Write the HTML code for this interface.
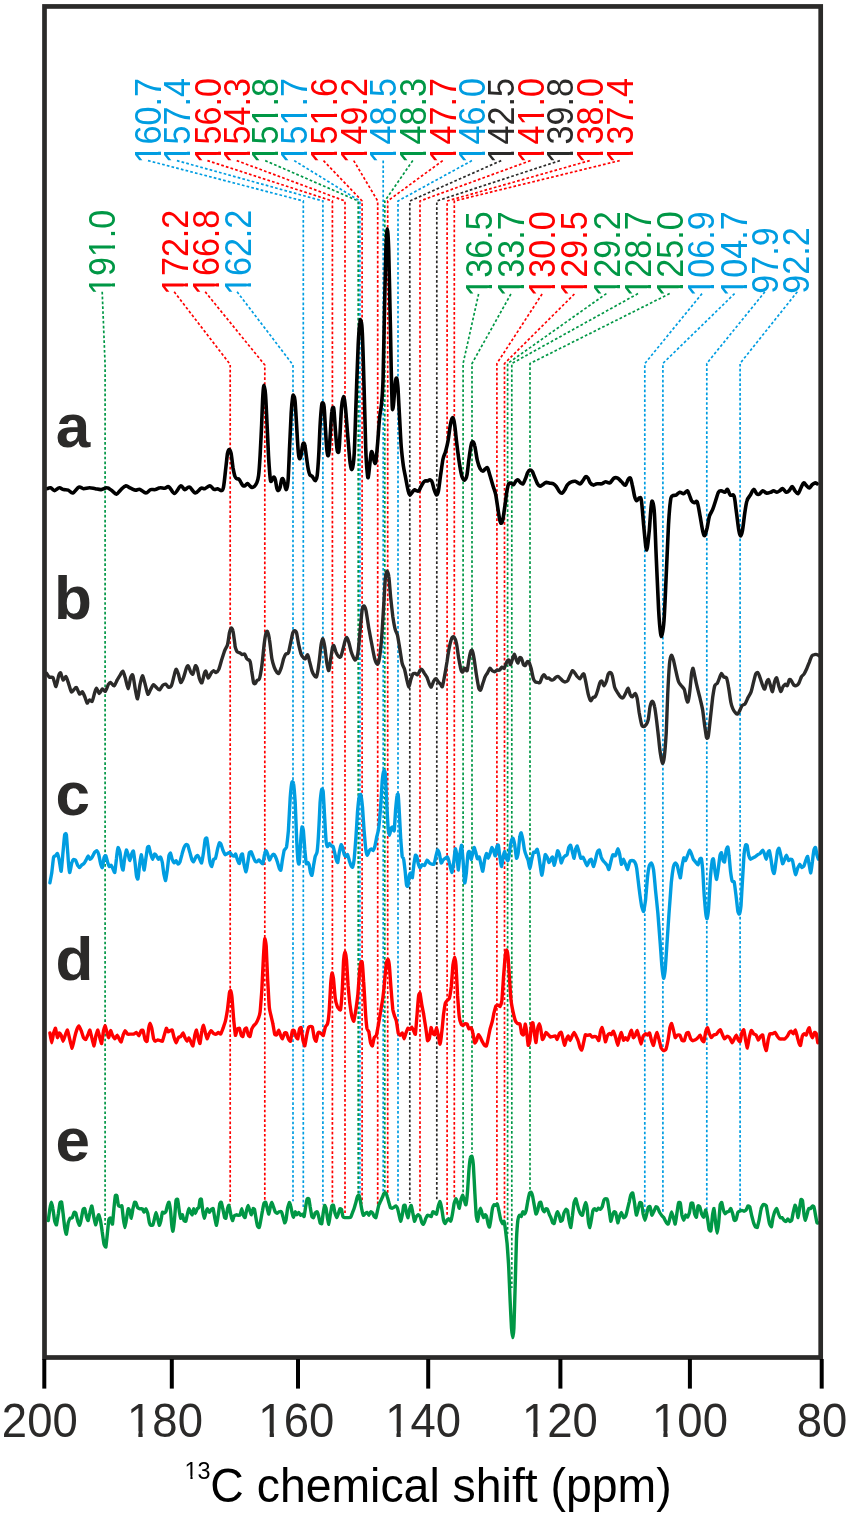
<!DOCTYPE html>
<html lang="en"><head><meta charset="utf-8"><title>13C NMR spectra</title>
<style>html,body{margin:0;padding:0;background:#fff}svg{display:block}text{font-family:'Liberation Sans', Arial, Helvetica, sans-serif}</style></head><body>
<svg width="850" height="1515" viewBox="0 0 850 1515">
<rect width="850" height="1515" fill="#fff"/>
<g font-size="36.01">
<g transform="translate(161.2 163.4) rotate(-90) scale(0.9469 1)"><text fill="#009de1">160.7</text><g fill="#fff"><rect x="1.67" y="-4.13" width="7.28" height="5.28"/><rect x="12.34" y="-4.13" width="7.44" height="5.28"/></g></g>
<g transform="translate(190.1 163.4) rotate(-90) scale(0.9469 1)"><text fill="#009de1">157.4</text><g fill="#fff"><rect x="1.67" y="-4.13" width="7.28" height="5.28"/><rect x="12.34" y="-4.13" width="7.44" height="5.28"/></g></g>
<g transform="translate(220.6 163.4) rotate(-90) scale(0.9469 1)"><text fill="#ff0000">156.0</text><g fill="#fff"><rect x="1.67" y="-4.13" width="7.28" height="5.28"/><rect x="12.34" y="-4.13" width="7.44" height="5.28"/></g></g>
<g transform="translate(249.9 163.4) rotate(-90) scale(0.9469 1)"><text fill="#ff0000">154.3</text><g fill="#fff"><rect x="1.67" y="-4.13" width="7.28" height="5.28"/><rect x="12.34" y="-4.13" width="7.44" height="5.28"/></g></g>
<g transform="translate(278.4 163.4) rotate(-90) scale(0.9469 1)"><text fill="#009745">151.8</text><g fill="#fff"><rect x="1.67" y="-4.13" width="7.28" height="5.28"/><rect x="12.34" y="-4.13" width="7.44" height="5.28"/><rect x="41.73" y="-4.13" width="7.28" height="5.28"/><rect x="52.40" y="-4.13" width="7.44" height="5.28"/></g></g>
<g transform="translate(307.4 163.4) rotate(-90) scale(0.9469 1)"><text fill="#009de1">151.7</text><g fill="#fff"><rect x="1.67" y="-4.13" width="7.28" height="5.28"/><rect x="12.34" y="-4.13" width="7.44" height="5.28"/><rect x="41.73" y="-4.13" width="7.28" height="5.28"/><rect x="52.40" y="-4.13" width="7.44" height="5.28"/></g></g>
<g transform="translate(336.7 163.4) rotate(-90) scale(0.9469 1)"><text fill="#ff0000">151.6</text><g fill="#fff"><rect x="1.67" y="-4.13" width="7.28" height="5.28"/><rect x="12.34" y="-4.13" width="7.44" height="5.28"/><rect x="41.73" y="-4.13" width="7.28" height="5.28"/><rect x="52.40" y="-4.13" width="7.44" height="5.28"/></g></g>
<g transform="translate(366.9 163.4) rotate(-90) scale(0.9469 1)"><text fill="#ff0000">149.2</text><g fill="#fff"><rect x="1.67" y="-4.13" width="7.28" height="5.28"/><rect x="12.34" y="-4.13" width="7.44" height="5.28"/></g></g>
<g transform="translate(396.4 163.4) rotate(-90) scale(0.9469 1)"><text fill="#009de1">148.5</text><g fill="#fff"><rect x="1.67" y="-4.13" width="7.28" height="5.28"/><rect x="12.34" y="-4.13" width="7.44" height="5.28"/></g></g>
<g transform="translate(426.0 163.4) rotate(-90) scale(0.9469 1)"><text fill="#009745">148.3</text><g fill="#fff"><rect x="1.67" y="-4.13" width="7.28" height="5.28"/><rect x="12.34" y="-4.13" width="7.44" height="5.28"/></g></g>
<g transform="translate(455.9 163.4) rotate(-90) scale(0.9469 1)"><text fill="#ff0000">147.7</text><g fill="#fff"><rect x="1.67" y="-4.13" width="7.28" height="5.28"/><rect x="12.34" y="-4.13" width="7.44" height="5.28"/></g></g>
<g transform="translate(485.1 163.4) rotate(-90) scale(0.9469 1)"><text fill="#009de1">146.0</text><g fill="#fff"><rect x="1.67" y="-4.13" width="7.28" height="5.28"/><rect x="12.34" y="-4.13" width="7.44" height="5.28"/></g></g>
<g transform="translate(514.4 163.4) rotate(-90) scale(0.9469 1)"><text fill="#2b2a29">142.5</text><g fill="#fff"><rect x="1.67" y="-4.13" width="7.28" height="5.28"/><rect x="12.34" y="-4.13" width="7.44" height="5.28"/></g></g>
<g transform="translate(543.7 163.4) rotate(-90) scale(0.9469 1)"><text fill="#ff0000">141.0</text><g fill="#fff"><rect x="1.67" y="-4.13" width="7.28" height="5.28"/><rect x="12.34" y="-4.13" width="7.44" height="5.28"/><rect x="41.73" y="-4.13" width="7.28" height="5.28"/><rect x="52.40" y="-4.13" width="7.44" height="5.28"/></g></g>
<g transform="translate(573.1 163.4) rotate(-90) scale(0.9469 1)"><text fill="#2b2a29">139.8</text><g fill="#fff"><rect x="1.67" y="-4.13" width="7.28" height="5.28"/><rect x="12.34" y="-4.13" width="7.44" height="5.28"/></g></g>
<g transform="translate(602.9 163.4) rotate(-90) scale(0.9469 1)"><text fill="#ff0000">138.0</text><g fill="#fff"><rect x="1.67" y="-4.13" width="7.28" height="5.28"/><rect x="12.34" y="-4.13" width="7.44" height="5.28"/></g></g>
<g transform="translate(632.9 163.4) rotate(-90) scale(0.9469 1)"><text fill="#ff0000">137.4</text><g fill="#fff"><rect x="1.67" y="-4.13" width="7.28" height="5.28"/><rect x="12.34" y="-4.13" width="7.44" height="5.28"/></g></g>
<g transform="translate(114.8 295.0) rotate(-90) scale(0.9469 1)"><text fill="#009745">191.0</text><g fill="#fff"><rect x="1.67" y="-4.13" width="7.28" height="5.28"/><rect x="12.34" y="-4.13" width="7.44" height="5.28"/><rect x="41.73" y="-4.13" width="7.28" height="5.28"/><rect x="52.40" y="-4.13" width="7.44" height="5.28"/></g></g>
<g transform="translate(187.6 295.0) rotate(-90) scale(0.9469 1)"><text fill="#ff0000">172.2</text><g fill="#fff"><rect x="1.67" y="-4.13" width="7.28" height="5.28"/><rect x="12.34" y="-4.13" width="7.44" height="5.28"/></g></g>
<g transform="translate(218.6 295.0) rotate(-90) scale(0.9469 1)"><text fill="#ff0000">166.8</text><g fill="#fff"><rect x="1.67" y="-4.13" width="7.28" height="5.28"/><rect x="12.34" y="-4.13" width="7.44" height="5.28"/></g></g>
<g transform="translate(250.5 295.0) rotate(-90) scale(0.9469 1)"><text fill="#009de1">162.2</text><g fill="#fff"><rect x="1.67" y="-4.13" width="7.28" height="5.28"/><rect x="12.34" y="-4.13" width="7.44" height="5.28"/></g></g>
<g transform="translate(491.5 296.7) rotate(-90) scale(0.9469 1)"><text fill="#009745">136.5</text><g fill="#fff"><rect x="1.67" y="-4.13" width="7.28" height="5.28"/><rect x="12.34" y="-4.13" width="7.44" height="5.28"/></g></g>
<g transform="translate(523.8 296.7) rotate(-90) scale(0.9469 1)"><text fill="#009745">133.7</text><g fill="#fff"><rect x="1.67" y="-4.13" width="7.28" height="5.28"/><rect x="12.34" y="-4.13" width="7.44" height="5.28"/></g></g>
<g transform="translate(555.0 296.7) rotate(-90) scale(0.9469 1)"><text fill="#ff0000">130.0</text><g fill="#fff"><rect x="1.67" y="-4.13" width="7.28" height="5.28"/><rect x="12.34" y="-4.13" width="7.44" height="5.28"/></g></g>
<g transform="translate(587.3 296.7) rotate(-90) scale(0.9469 1)"><text fill="#ff0000">129.5</text><g fill="#fff"><rect x="1.67" y="-4.13" width="7.28" height="5.28"/><rect x="12.34" y="-4.13" width="7.44" height="5.28"/></g></g>
<g transform="translate(619.5 296.7) rotate(-90) scale(0.9469 1)"><text fill="#009745">129.2</text><g fill="#fff"><rect x="1.67" y="-4.13" width="7.28" height="5.28"/><rect x="12.34" y="-4.13" width="7.44" height="5.28"/></g></g>
<g transform="translate(651.3 296.7) rotate(-90) scale(0.9469 1)"><text fill="#009745">128.7</text><g fill="#fff"><rect x="1.67" y="-4.13" width="7.28" height="5.28"/><rect x="12.34" y="-4.13" width="7.44" height="5.28"/></g></g>
<g transform="translate(682.7 296.7) rotate(-90) scale(0.9469 1)"><text fill="#009745">125.0</text><g fill="#fff"><rect x="1.67" y="-4.13" width="7.28" height="5.28"/><rect x="12.34" y="-4.13" width="7.44" height="5.28"/></g></g>
<g transform="translate(714.2 296.7) rotate(-90) scale(0.9469 1)"><text fill="#009de1">106.9</text><g fill="#fff"><rect x="1.67" y="-4.13" width="7.28" height="5.28"/><rect x="12.34" y="-4.13" width="7.44" height="5.28"/></g></g>
<g transform="translate(747.3 296.7) rotate(-90) scale(0.9469 1)"><text fill="#009de1">104.7</text><g fill="#fff"><rect x="1.67" y="-4.13" width="7.28" height="5.28"/><rect x="12.34" y="-4.13" width="7.44" height="5.28"/></g></g>
<g transform="translate(778.1 293.7) rotate(-90) scale(0.9469 1)"><text fill="#009de1">97.9</text><g fill="#fff"></g></g>
<g transform="translate(809.1 293.7) rotate(-90) scale(0.9469 1)"><text fill="#009de1">92.2</text><g fill="#fff"></g></g>
</g>
<g fill="none" stroke-width="1.7" stroke-dasharray="2.7 2.15">
<path stroke="#009de1" d="M148.0 160.6L303.3 201.0L303.3 1207.0"/>
<path stroke="#009de1" d="M176.9 160.6L322.9 201.0L322.9 1204.5"/>
<path stroke="#ff0000" d="M207.4 160.6L332.4 201.0L332.4 1204.0"/>
<path stroke="#ff0000" d="M236.7 160.6L345.0 201.0L345.0 1213.0"/>
<path stroke="#009745" d="M265.2 160.6L358.2 201.0L358.2 1194.0"/>
<path stroke="#009de1" d="M294.2 160.6L359.9 201.0L359.9 1199.0"/>
<path stroke="#ff0000" d="M323.5 160.6L362.1 201.0L362.1 1203.5"/>
<path stroke="#ff0000" d="M353.7 160.6L377.7 201.0L377.7 1206.0"/>
<path stroke="#009de1" d="M383.2 160.6L383.2 201.0L383.2 1196.5"/>
<path stroke="#009745" d="M412.8 160.6L384.8 201.0L384.8 1192.0"/>
<path stroke="#ff0000" d="M442.7 160.6L387.7 201.0L387.7 1195.0"/>
<path stroke="#009de1" d="M471.9 160.6L398.0 201.0L398.0 1203.0"/>
<path stroke="#2b2a29" d="M501.2 160.6L409.8 201.0L409.8 1203.0"/>
<path stroke="#ff0000" d="M530.5 160.6L420.0 201.0L420.0 1213.0"/>
<path stroke="#2b2a29" d="M559.9 160.6L436.8 201.0L436.8 1201.6"/>
<path stroke="#ff0000" d="M589.7 160.6L447.1 201.0L447.1 1216.5"/>
<path stroke="#ff0000" d="M619.7 160.6L454.3 201.0L454.3 1197.6"/>
<path stroke="#009745" d="M102.2 291.8L105.1 365.0L105.1 1225.0"/>
<path stroke="#ff0000" d="M174.2 291.8L230.2 364.5L230.2 1204.6"/>
<path stroke="#ff0000" d="M205.2 291.8L264.8 365.0L264.8 1200.5"/>
<path stroke="#009de1" d="M237.1 291.8L293.0 365.0L293.0 1201.3"/>
<path stroke="#009745" d="M478.6 294.0L463.1 363.5L463.1 1194.0"/>
<path stroke="#009745" d="M510.9 294.0L472.0 363.5L472.0 1153.0"/>
<path stroke="#ff0000" d="M542.1 294.0L496.9 363.5L496.9 1202.4"/>
<path stroke="#ff0000" d="M574.4 294.0L504.5 363.5L504.5 1218.8"/>
<path stroke="#009745" d="M606.4 293.6L507.6 363.5L507.6 1234.0"/>
<path stroke="#009745" d="M638.0 293.6L511.8 363.5L511.8 1288.0"/>
<path stroke="#009745" d="M669.7 293.6L530.0 363.5L530.0 1189.4"/>
<path stroke="#009de1" d="M702.0 293.6L644.8 363.6L644.8 1213.8"/>
<path stroke="#009de1" d="M734.6 293.6L662.9 363.4L662.9 1213.8"/>
<path stroke="#009de1" d="M764.9 291.8L706.8 363.4L706.8 1220.0"/>
<path stroke="#009de1" d="M797.3 291.8L740.1 363.4L740.1 1210.0"/>
</g>
<g fill="none" stroke-linejoin="round" stroke-linecap="round">
<path stroke="#000000" stroke-width="3.6" d="M47.1 488.7C47.6 488.5 49.3 487.5 50.6 487.8C51.8 488.1 53.1 490.6 54.6 490.6C56.0 490.6 57.8 487.9 59.3 487.8C60.8 487.6 62.0 489.3 63.5 489.6C65.0 490.0 66.7 489.6 68.2 490.1C69.8 490.7 71.2 493.5 72.9 492.9C74.7 492.4 77.1 487.8 78.8 487.1C80.6 486.4 81.8 488.6 83.5 488.7C85.3 488.8 87.5 487.8 89.4 487.8C91.4 487.8 93.3 488.4 95.3 488.7C97.3 489.0 99.2 489.8 101.2 489.6C103.1 489.5 105.3 487.6 107.1 487.8C108.8 487.9 110.2 489.5 111.8 490.6C113.3 491.6 114.9 494.3 116.5 494.1C118.0 493.9 119.6 490.8 121.2 489.4C122.7 488.0 124.3 486.1 125.9 485.9C127.5 485.7 129.0 487.5 130.6 488.2C132.2 488.9 133.7 489.9 135.3 490.1C136.9 490.3 138.2 488.9 140.0 489.4C141.8 489.9 144.1 492.9 145.9 492.9C147.6 493.0 149.0 490.2 150.6 489.6C152.2 489.1 153.7 490.0 155.3 489.6C156.9 489.3 158.4 488.0 160.0 487.8C161.6 487.5 163.2 488.4 164.7 488.2C166.2 488.1 167.3 486.0 168.9 486.8C170.6 487.7 172.6 493.6 174.6 493.4C176.5 493.3 179.0 486.5 180.7 485.9C182.4 485.3 183.3 489.5 184.7 489.6C186.2 489.8 187.6 486.5 189.4 487.1C191.2 487.6 193.3 492.7 195.3 492.9C197.3 493.1 199.6 488.9 201.2 488.2C202.7 487.5 203.3 489.1 204.7 488.7C206.2 488.3 208.3 485.8 209.9 485.9C211.5 486.0 212.8 488.9 214.1 489.4C215.4 489.9 216.5 488.5 217.6 488.7C218.8 488.9 220.2 490.9 221.2 490.6C222.2 490.3 222.7 491.0 223.5 487.1C224.3 483.1 225.2 472.7 225.9 467.1C226.6 461.4 227.0 456.3 227.5 453.4C228.1 450.4 228.6 449.5 229.2 449.5C229.8 449.5 230.4 450.3 231.1 453.4C231.7 456.4 232.4 464.1 233.0 467.9C233.7 471.7 234.3 474.5 234.9 476.3C235.5 478.1 236.0 478.1 236.7 478.6C237.4 479.1 238.4 478.6 239.2 479.4C239.9 480.1 240.6 482.1 241.3 483.2C242.0 484.3 242.6 485.6 243.3 485.9C244.0 486.3 244.6 485.9 245.3 485.5C246.0 485.1 246.7 483.4 247.4 483.5C248.2 483.6 249.1 485.3 249.9 485.9C250.7 486.6 251.4 487.4 252.2 487.5C252.9 487.5 253.7 487.0 254.5 486.2C255.2 485.5 255.9 485.0 256.6 483.2C257.3 481.4 258.0 480.1 258.6 475.5C259.2 470.9 259.6 464.3 260.1 455.7C260.6 447.0 261.2 433.7 261.7 423.5C262.1 413.3 262.5 400.8 262.9 394.5C263.3 388.1 263.7 385.3 264.1 385.3C264.5 385.3 265.0 388.1 265.5 394.5C266.0 400.8 266.5 413.3 267.0 423.5C267.5 433.7 268.1 447.2 268.5 455.7C269.0 464.1 269.4 469.7 269.8 474.0C270.1 478.3 270.4 480.5 270.8 481.3C271.3 482.2 271.8 480.1 272.4 479.4C272.9 478.6 273.4 476.9 273.9 477.1C274.4 477.2 274.9 478.2 275.4 480.1C275.9 482.0 276.4 486.8 276.9 488.5C277.5 490.3 278.0 490.7 278.5 490.5C279.0 490.4 279.5 489.5 280.0 487.8C280.5 486.0 281.1 481.7 281.5 480.1C282.0 478.6 282.3 478.3 282.8 478.6C283.2 478.9 283.7 480.1 284.1 481.7C284.6 483.2 285.0 486.5 285.4 487.8C285.8 489.0 286.1 490.3 286.6 489.0C287.0 487.7 287.6 487.2 288.1 480.1C288.6 473.0 289.1 457.7 289.6 446.5C290.2 435.3 290.7 421.1 291.2 412.8C291.7 404.5 292.3 399.6 292.7 396.8C293.1 394.0 293.4 395.4 293.8 396.0C294.2 396.6 294.5 396.0 295.0 400.6C295.5 405.2 296.0 415.4 296.5 423.5C297.0 431.7 297.6 443.7 298.1 449.5C298.5 455.3 298.9 457.4 299.4 458.4C299.9 459.4 300.4 457.8 301.0 455.7C301.5 453.5 302.0 447.8 302.5 445.7C302.9 443.6 303.3 443.1 303.7 443.1C304.1 443.1 304.5 443.4 304.9 445.7C305.4 448.1 305.9 453.2 306.5 457.2C307.0 461.1 307.7 466.5 308.3 469.4C308.9 472.4 309.2 473.6 309.8 474.8C310.5 475.9 311.4 475.5 312.1 476.3C312.8 477.1 313.5 478.7 314.1 479.4C314.7 480.0 315.1 481.1 315.6 480.4C316.2 479.8 316.7 479.7 317.2 475.5C317.7 471.4 318.2 464.3 318.7 455.7C319.2 447.0 319.7 431.8 320.2 423.5C320.7 415.2 321.2 409.4 321.6 405.9C322.0 402.5 322.4 402.8 322.8 402.9C323.2 403.0 323.6 402.5 324.1 406.7C324.5 410.9 325.0 421.2 325.4 428.1C325.9 435.0 326.2 443.4 326.7 448.0C327.1 452.6 327.5 455.1 327.9 455.7C328.3 456.2 328.7 455.1 329.1 451.1C329.5 447.0 330.0 437.8 330.5 431.2C330.9 424.6 331.4 415.2 331.9 411.3C332.3 407.3 332.6 407.6 332.9 407.5C333.3 407.3 333.6 406.6 334.0 410.5C334.4 414.5 335.0 424.9 335.5 431.2C336.0 437.4 336.5 444.5 336.9 448.0C337.3 451.5 337.7 452.5 338.1 452.3C338.5 452.0 338.8 453.9 339.3 446.5C339.9 439.1 340.8 416.3 341.5 408.0C342.2 399.7 342.9 396.5 343.5 396.5C344.2 396.5 344.8 401.2 345.5 408.0C346.2 414.9 347.1 428.5 347.9 437.7C348.7 447.0 349.5 458.3 350.2 463.5C351.0 468.7 351.6 470.7 352.2 469.0C352.9 467.4 353.5 465.4 354.2 453.6C354.9 441.7 355.5 416.3 356.2 398.1C356.8 380.0 357.6 357.2 358.2 344.7C358.8 332.1 359.3 326.8 359.8 322.9C360.2 318.9 360.5 319.2 360.9 320.9C361.4 322.5 361.8 321.6 362.3 332.8C362.9 344.0 363.5 369.1 364.1 388.2C364.7 407.4 365.2 433.4 365.7 447.6C366.2 461.8 366.8 468.5 367.3 473.4C367.7 478.3 367.9 478.3 368.3 476.9C368.7 475.6 369.2 469.5 369.7 465.4C370.1 461.4 370.7 454.6 371.2 452.6C371.7 450.6 372.1 452.1 372.6 453.6C373.1 455.0 373.7 460.1 374.2 461.5C374.7 462.9 375.2 464.9 375.8 461.9C376.4 458.9 376.9 451.0 377.6 443.7C378.2 436.3 378.9 424.5 379.6 417.9C380.2 411.3 380.9 410.7 381.5 404.1C382.1 397.5 382.6 394.2 383.1 378.3C383.6 362.5 384.0 330.5 384.5 309.0C385.0 287.6 385.4 263.0 385.9 249.6C386.4 236.2 386.8 228.8 387.3 228.8C387.7 228.8 388.2 236.2 388.7 249.6C389.1 263.0 389.6 289.2 390.0 309.0C390.5 328.8 390.9 352.2 391.2 368.4C391.6 384.6 391.9 399.6 392.2 406.0C392.6 412.5 392.9 409.0 393.2 407.0C393.6 405.0 394.0 398.6 394.4 394.2C394.8 389.7 395.2 382.9 395.6 380.3C396.0 377.7 396.4 377.4 396.8 378.7C397.2 380.0 397.5 381.7 398.0 388.2C398.4 394.8 399.0 408.0 399.6 417.9C400.1 427.8 400.7 439.7 401.3 447.6C402.0 455.5 402.6 460.2 403.3 465.4C404.1 470.7 405.1 475.0 405.9 479.3C406.7 483.6 407.6 488.5 408.3 491.2C408.9 493.8 409.2 495.0 409.9 495.1C410.5 495.3 411.4 493.1 412.2 492.2C413.0 491.3 413.9 490.0 414.6 489.8C415.3 489.6 415.9 490.6 416.6 490.8C417.3 491.0 418.1 491.4 418.8 490.8C419.5 490.2 420.0 488.5 420.7 487.2C421.5 485.9 422.4 483.9 423.1 482.9C423.8 481.8 424.3 481.2 425.1 480.9C425.9 480.6 426.8 481.1 427.7 480.9C428.5 480.7 429.3 479.6 430.0 479.7C430.8 479.8 431.4 480.1 432.0 481.7C432.7 483.3 433.3 487.1 434.0 489.2C434.7 491.3 435.5 493.2 436.0 494.2C436.5 495.1 436.6 495.2 437.0 494.8C437.4 494.3 437.8 494.1 438.4 491.2C438.9 488.3 439.6 482.6 440.3 477.3C441.1 472.0 442.1 463.8 442.9 459.5C443.8 455.2 444.7 454.6 445.5 451.6C446.3 448.6 447.1 446.0 447.9 441.7C448.7 437.4 449.6 429.6 450.2 425.8C450.9 422.0 451.3 420.2 451.8 418.9C452.3 417.7 452.7 417.2 453.2 418.3C453.7 419.5 454.2 421.6 454.8 425.8C455.4 430.1 456.0 437.0 456.8 443.7C457.6 450.3 458.9 460.3 459.8 465.9C460.7 471.5 461.4 474.8 462.2 477.2C463.1 479.5 463.9 480.3 464.7 480.0C465.5 479.7 466.3 478.6 466.9 475.3C467.6 472.0 468.1 465.3 468.8 460.2C469.5 455.2 470.4 448.3 471.1 445.2C471.8 442.1 472.3 441.6 473.0 441.8C473.6 441.9 474.1 443.0 474.8 446.1C475.6 449.2 476.4 456.5 477.3 460.2C478.2 464.0 479.2 466.9 480.1 468.7C481.1 470.5 482.1 471.2 482.9 471.2C483.8 471.2 484.6 469.2 485.4 468.7C486.2 468.2 486.9 467.0 487.6 468.1C488.4 469.2 489.0 472.4 489.9 475.3C490.8 478.2 492.0 482.5 492.9 485.6C493.9 488.8 494.7 490.2 495.6 494.1C496.4 498.0 497.3 504.8 498.0 509.2C498.7 513.6 499.3 518.1 499.9 520.5C500.4 522.8 500.7 523.3 501.2 523.3C501.7 523.3 502.1 523.5 502.7 520.5C503.3 517.5 504.2 510.4 505.0 505.4C505.7 500.4 506.4 494.0 507.0 490.4C507.7 486.7 508.0 485.0 508.7 483.8C509.4 482.6 510.4 483.0 511.2 483.2C512.0 483.4 512.8 485.1 513.6 484.7C514.4 484.3 515.1 481.7 515.9 480.9C516.6 480.2 517.4 479.7 518.1 480.0C518.9 480.3 519.8 482.2 520.6 482.8C521.4 483.5 522.3 484.4 523.0 483.8C523.8 483.1 524.5 480.9 525.3 479.1C526.1 477.2 527.0 474.0 527.7 472.5C528.5 471.0 529.2 470.2 530.0 470.0C530.8 469.9 531.5 470.3 532.3 471.5C533.0 472.7 533.8 475.1 534.7 477.2C535.6 479.2 536.7 482.3 537.5 483.8C538.4 485.3 539.1 486.1 540.0 486.2C540.8 486.4 541.6 485.3 542.6 484.7C543.6 484.1 544.8 482.7 546.0 482.4C547.2 482.2 548.5 483.0 549.8 483.2C551.0 483.4 552.4 483.2 553.5 483.8C554.6 484.3 555.4 485.3 556.4 486.6C557.3 487.8 558.2 490.2 559.2 491.3C560.1 492.4 561.1 493.3 562.0 493.2C562.9 493.0 563.5 491.8 564.4 490.4C565.4 488.9 566.5 486.1 567.6 484.7C568.8 483.3 570.2 482.4 571.4 481.9C572.7 481.3 574.1 481.2 575.2 481.3C576.3 481.5 577.2 482.4 578.0 482.8C578.8 483.2 579.5 484.1 580.3 483.8C581.0 483.5 581.8 482.1 582.7 480.9C583.6 479.8 584.7 477.3 585.5 476.8C586.4 476.3 587.2 477.1 588.0 478.1C588.8 479.1 589.3 481.7 590.2 482.8C591.1 484.0 592.3 484.9 593.4 485.1C594.5 485.2 595.4 484.0 596.8 483.8C598.2 483.5 600.4 484.1 601.9 483.8C603.3 483.4 604.2 481.9 605.5 481.8C606.8 481.6 608.4 483.5 609.8 482.9C611.2 482.3 612.7 478.9 614.0 478.1C615.3 477.3 616.4 477.5 617.7 478.1C618.9 478.7 620.4 480.6 621.6 481.8C622.9 483.0 624.2 485.5 625.3 485.2C626.4 484.8 627.3 480.7 628.1 479.5C629.0 478.3 629.7 477.2 630.4 478.1C631.1 479.1 631.6 482.1 632.3 485.2C633.1 488.2 633.9 493.9 634.6 496.5C635.3 499.1 635.8 500.5 636.6 500.7C637.4 500.9 638.6 497.9 639.4 497.9C640.2 497.9 640.7 496.2 641.4 500.7C642.1 505.2 642.9 516.9 643.6 524.7C644.4 532.5 645.3 543.4 645.9 547.3C646.5 551.1 646.7 550.7 647.3 547.8C647.9 545.0 648.6 537.5 649.3 530.3C649.9 523.2 650.7 509.6 651.3 504.9C651.8 500.2 652.2 500.7 652.7 502.1C653.2 503.5 653.8 504.0 654.4 513.4C655.0 522.8 655.6 542.6 656.3 558.6C657.1 574.6 657.9 596.9 658.6 609.4C659.3 621.9 660.0 629.2 660.6 633.4C661.1 637.6 661.4 636.9 662.0 634.8C662.6 632.7 663.3 630.6 664.0 620.7C664.7 610.8 665.5 591.5 666.2 575.5C667.0 559.5 667.8 537.2 668.5 524.7C669.2 512.2 669.8 505.5 670.5 500.7C671.1 495.9 671.5 496.8 672.4 495.9C673.4 495.0 674.9 495.7 676.1 495.1C677.3 494.4 678.5 492.5 679.8 492.2C681.1 492.0 682.5 493.9 683.7 493.6C685.0 493.4 686.5 490.6 687.4 490.8C688.3 491.1 688.7 493.4 689.4 495.1C690.1 496.7 690.8 499.4 691.6 500.7C692.5 502.0 693.5 502.4 694.5 502.7C695.4 502.9 696.3 499.9 697.3 502.1C698.2 504.4 699.2 511.3 700.1 516.2C701.0 521.2 702.1 528.6 702.9 531.8C703.7 535.0 704.2 536.1 704.9 535.4C705.6 534.7 706.4 530.7 707.2 527.5C707.9 524.3 708.5 519.3 709.4 516.2C710.4 513.2 711.8 511.8 712.8 509.2C713.8 506.6 714.7 503.5 715.6 500.7C716.6 497.9 717.5 493.9 718.5 492.2C719.4 490.6 720.2 490.8 721.3 490.8C722.4 490.8 723.9 492.5 725.0 492.2C726.0 492.0 726.6 488.9 727.5 489.4C728.4 489.9 729.2 494.0 730.3 495.1C731.4 496.1 733.0 493.3 734.0 495.9C735.0 498.5 735.4 504.8 736.2 510.6C737.0 516.3 738.1 526.1 738.8 530.3C739.5 534.6 739.9 536.0 740.5 536.0C741.1 536.0 741.8 534.1 742.5 530.3C743.2 526.6 744.0 518.3 744.7 513.4C745.5 508.5 746.0 503.8 747.0 500.7C747.9 497.6 749.2 496.9 750.4 495.1C751.5 493.2 752.7 489.6 753.7 489.4C754.8 489.2 755.6 492.8 756.6 493.6C757.5 494.4 758.4 494.7 759.4 494.2C760.4 493.7 761.6 491.0 762.8 490.8C764.0 490.6 765.1 492.8 766.5 493.1C767.8 493.3 769.5 492.6 770.7 492.2C771.9 491.9 772.5 490.8 773.5 490.8C774.5 490.8 775.9 492.2 776.9 492.2C777.9 492.2 778.8 491.4 779.7 490.8C780.7 490.2 781.5 488.3 782.5 488.6C783.6 488.8 785.1 491.9 786.2 492.2C787.3 492.6 788.1 491.8 789.0 490.8C790.0 489.9 791.2 486.6 792.1 486.6C793.1 486.6 794.0 489.6 795.0 490.8C796.0 492.0 797.1 494.1 798.1 493.6C799.1 493.2 800.0 489.8 800.9 488.0C801.8 486.2 802.8 483.3 803.7 482.9C804.7 482.5 805.6 484.9 806.5 485.7C807.5 486.6 808.4 488.2 809.4 488.0C810.3 487.8 811.2 485.5 812.2 484.6C813.1 483.8 814.2 483.1 815.0 482.9C815.9 482.8 816.9 483.6 817.3 483.8"/>
<path stroke="#2b2a29" stroke-width="3.4" d="M46.6 673.4C46.9 673.9 48.6 676.6 49.4 677.2C50.2 677.7 52.1 676.5 52.9 677.6C53.8 678.8 55.3 686.9 56.0 686.6C56.7 686.3 58.2 677.0 58.8 675.3C59.4 673.6 60.2 672.4 60.7 672.9C61.2 673.5 62.4 679.6 63.1 680.0C63.7 680.4 65.2 676.2 65.9 676.5C66.5 676.8 67.6 680.4 68.2 682.4C68.9 684.3 70.6 690.9 71.3 691.8C72.0 692.6 73.5 689.9 74.1 689.4C74.8 688.9 75.8 686.9 76.5 687.5C77.1 688.1 78.8 693.6 79.5 694.1C80.3 694.6 81.7 691.5 82.4 691.8C83.0 692.1 84.1 695.1 84.7 696.5C85.3 697.9 86.5 702.6 87.1 703.1C87.6 703.5 88.8 700.2 89.4 700.0C90.1 699.8 91.6 702.1 92.2 701.2C92.9 700.3 94.1 694.6 94.6 692.9C95.1 691.3 95.9 688.1 96.5 688.2C97.1 688.3 98.6 693.6 99.3 693.6C100.0 693.7 101.6 689.2 102.4 688.9C103.1 688.6 104.7 691.8 105.4 691.3C106.1 690.8 107.6 685.8 108.2 684.7C108.9 683.6 109.9 682.2 110.6 682.4C111.3 682.5 113.3 686.2 114.1 685.9C114.9 685.6 116.4 681.3 117.2 680.0C117.9 678.7 119.3 676.4 120.0 675.3C120.7 674.2 122.2 670.8 122.8 671.1C123.5 671.4 124.5 675.4 125.2 677.6C125.9 679.9 127.6 688.9 128.2 688.9C128.9 688.9 130.0 679.4 130.6 677.6C131.2 675.9 132.4 673.8 132.9 675.3C133.5 676.8 134.7 686.5 135.3 689.4C135.9 692.4 137.1 699.4 137.6 698.8C138.2 698.2 139.4 687.6 140.0 684.7C140.6 681.8 141.8 676.1 142.4 675.8C142.9 675.5 144.0 680.1 144.7 682.4C145.4 684.6 147.0 693.2 147.8 694.1C148.5 695.0 149.9 690.6 150.6 689.4C151.3 688.2 152.7 684.9 153.4 684.7C154.1 684.5 155.7 686.9 156.5 687.5C157.2 688.2 158.7 690.2 159.5 689.9C160.3 689.6 162.0 685.9 162.8 685.2C163.6 684.5 165.2 684.0 165.9 684.2C166.6 684.5 167.6 686.9 168.2 687.1C168.9 687.3 170.6 687.1 171.3 685.9C172.0 684.7 173.1 679.7 173.6 677.6C174.2 675.6 175.4 669.9 176.0 669.4C176.6 669.0 177.8 672.5 178.4 674.1C178.9 675.7 180.1 681.9 180.7 682.4C181.4 682.8 182.8 679.4 183.5 677.6C184.2 675.9 185.8 669.7 186.4 668.2C186.9 666.8 187.7 665.4 188.2 665.9C188.8 666.3 190.0 670.7 190.6 671.8C191.2 672.8 192.4 674.9 192.9 674.1C193.5 673.4 194.8 666.6 195.3 665.9C195.8 665.1 196.6 666.6 197.2 668.2C197.7 669.9 198.9 677.0 199.5 678.8C200.1 680.6 201.3 683.4 201.9 682.8C202.5 682.2 203.7 675.6 204.2 674.1C204.7 672.6 205.4 670.6 205.9 671.1C206.4 671.6 207.6 677.9 208.2 678.1C208.9 678.4 210.6 673.9 211.3 672.9C212.0 672.0 213.1 670.6 213.6 670.6C214.2 670.5 215.4 672.6 216.0 672.5C216.6 672.3 218.1 671.0 218.8 669.4C219.5 667.9 220.9 662.4 221.6 660.0C222.4 657.6 224.0 652.5 224.7 650.6C225.4 648.7 226.9 646.9 227.5 644.7C228.1 642.5 229.0 635.0 229.4 632.9C229.9 630.9 230.6 628.5 231.1 628.2C231.5 627.9 232.5 628.7 232.9 630.6C233.4 632.5 234.5 641.5 234.8 643.5C235.1 645.6 234.9 646.0 235.2 647.1C235.5 648.1 236.5 651.0 237.1 651.8C237.6 652.5 239.2 652.6 239.9 652.9C240.5 653.3 241.6 654.4 242.2 654.6C242.8 654.7 244.0 653.6 244.6 654.1C245.2 654.6 246.3 657.9 246.9 658.8C247.6 659.7 249.4 659.7 250.0 661.2C250.6 662.6 251.2 667.9 251.6 670.6C252.1 673.2 253.1 680.7 253.5 682.4C254.0 684.0 254.7 683.8 255.2 683.5C255.6 683.3 256.5 681.1 257.1 680.5C257.6 679.9 258.8 680.6 259.4 678.8C260.0 677.0 261.2 670.1 261.8 665.9C262.4 661.6 263.6 648.8 264.1 644.7C264.6 640.6 265.6 634.6 266.0 632.9C266.4 631.3 267.2 630.9 267.6 631.8C268.1 632.6 269.0 636.6 269.5 640.0C270.1 643.4 271.3 655.4 271.9 658.8C272.5 662.2 273.6 665.4 274.2 667.1C274.8 668.7 276.0 671.0 276.6 671.8C277.1 672.6 278.1 673.9 278.7 673.4C279.3 673.0 280.4 670.1 281.1 668.2C281.7 666.4 283.1 660.6 283.6 658.8C284.2 657.1 285.2 654.9 285.8 654.1C286.4 653.4 287.7 654.4 288.4 652.9C289.0 651.5 290.1 644.9 290.7 642.4C291.3 639.9 292.3 634.4 292.8 632.9C293.3 631.5 294.2 630.6 294.7 630.6C295.2 630.6 296.1 631.2 296.6 632.9C297.1 634.7 298.1 642.1 298.7 644.7C299.3 647.4 300.5 652.5 301.1 654.1C301.6 655.7 302.9 657.1 303.4 657.6C303.9 658.2 304.8 659.2 305.3 658.8C305.8 658.5 307.1 654.5 307.6 654.8C308.2 655.1 309.0 659.2 309.5 661.2C310.1 663.1 311.3 668.8 311.9 670.6C312.5 672.4 313.6 674.6 314.2 675.3C314.8 676.0 316.0 677.9 316.6 676.5C317.2 675.0 318.4 667.5 318.9 663.5C319.5 659.6 320.6 647.8 321.1 644.7C321.6 641.6 322.5 638.5 322.9 638.8C323.4 639.1 324.3 644.0 324.8 647.1C325.3 650.1 326.4 660.6 326.9 663.5C327.4 666.5 328.4 671.2 328.8 670.6C329.3 670.0 330.2 661.8 330.7 658.8C331.2 655.9 332.2 648.7 332.6 647.1C333.0 645.4 333.6 645.3 334.0 645.9C334.4 646.5 335.4 650.5 335.9 651.8C336.4 653.0 337.6 655.4 338.2 656.0C338.8 656.6 340.0 657.8 340.6 656.9C341.2 656.1 342.4 651.5 342.9 649.4C343.5 647.3 344.8 641.5 345.3 640.0C345.8 638.5 346.5 637.4 346.9 637.6C347.4 637.9 348.3 640.6 348.8 642.4C349.4 644.1 350.6 649.9 351.2 651.8C351.8 653.7 353.0 656.6 353.5 657.6C354.1 658.7 354.9 660.4 355.4 660.0C355.9 659.6 357.2 657.8 357.8 654.1C358.4 650.4 359.6 636.2 360.1 630.6C360.7 625.0 361.7 612.5 362.2 609.4C362.7 606.3 363.6 605.7 364.1 605.9C364.6 606.0 365.4 607.8 366.0 610.6C366.6 613.4 368.1 624.0 368.8 628.2C369.6 632.5 371.1 640.9 371.9 644.7C372.6 648.5 374.1 656.4 374.7 658.8C375.4 661.2 376.5 663.7 377.1 664.0C377.6 664.3 378.4 663.9 378.9 661.2C379.5 658.5 380.7 649.1 381.3 642.4C381.9 635.6 383.1 615.0 383.6 607.1C384.1 599.1 384.9 583.3 385.3 578.8C385.7 574.4 386.5 571.6 386.9 571.3C387.4 571.0 388.4 573.2 388.8 576.5C389.3 579.8 390.2 592.6 390.7 597.6C391.2 602.6 392.3 612.5 392.8 616.5C393.4 620.4 394.6 627.1 395.2 629.4C395.8 631.8 396.9 632.8 397.5 635.3C398.1 637.8 399.3 645.9 399.9 649.4C400.5 652.9 401.6 661.0 402.2 663.5C402.8 666.0 404.0 667.4 404.6 669.4C405.2 671.5 406.4 677.8 406.9 680.0C407.5 682.2 408.4 687.1 408.8 687.1C409.3 687.1 410.2 681.6 410.7 680.0C411.2 678.4 412.3 674.9 412.8 674.1C413.4 673.3 414.6 673.3 415.2 673.4C415.8 673.5 416.9 675.2 417.5 674.8C418.1 674.5 419.4 671.3 419.9 670.6C420.4 669.9 421.2 669.1 421.8 669.4C422.3 669.7 423.5 671.9 424.1 672.9C424.8 674.0 426.4 676.2 427.1 677.6C427.7 679.1 428.9 683.1 429.4 684.2C429.9 685.4 430.8 687.4 431.3 687.1C431.8 686.7 433.1 682.2 433.6 681.2C434.2 680.1 435.4 678.7 436.0 678.8C436.6 678.9 437.8 681.2 438.4 681.9C438.9 682.6 440.2 683.6 440.7 684.2C441.2 684.8 441.9 687.7 442.4 686.6C442.9 685.5 444.1 678.5 444.7 675.3C445.3 672.1 446.5 664.7 447.1 661.2C447.6 657.6 448.8 649.9 449.4 647.1C450.0 644.2 451.2 639.4 451.8 638.1C452.4 636.9 453.5 636.5 454.1 637.2C454.7 637.9 455.9 640.8 456.5 643.5C457.1 646.2 458.2 655.4 458.8 658.8C459.4 662.2 460.7 669.0 461.2 670.6C461.7 672.2 462.4 672.1 462.8 671.8C463.3 671.5 464.2 668.4 464.7 668.2C465.2 668.1 466.6 671.5 467.1 670.6C467.6 669.7 468.3 663.5 468.7 661.2C469.1 658.8 470.1 653.1 470.6 651.8C471.0 650.4 471.8 649.7 472.2 650.6C472.7 651.5 473.6 655.7 474.1 658.8C474.6 661.9 475.9 671.6 476.5 675.3C477.1 679.0 478.3 686.4 478.8 688.2C479.4 690.1 480.2 690.5 480.7 689.9C481.2 689.3 482.3 685.2 482.8 683.5C483.4 681.9 484.6 677.8 485.2 676.5C485.8 675.1 486.9 674.0 487.5 672.9C488.1 671.9 489.3 668.5 489.9 668.2C490.5 667.9 491.6 670.1 492.2 670.6C492.8 671.0 494.0 671.8 494.6 671.8C495.2 671.7 496.6 670.3 497.2 670.1C497.8 669.9 498.9 670.5 499.5 670.1C500.1 669.7 501.3 667.3 501.9 667.1C502.5 666.8 503.6 668.8 504.2 668.2C504.8 667.6 506.0 663.4 506.6 662.4C507.1 661.3 508.2 659.7 508.7 660.0C509.2 660.3 510.1 664.9 510.6 664.7C511.1 664.6 512.0 660.1 512.5 658.8C512.9 657.5 513.9 654.1 514.4 654.1C514.8 654.1 515.6 657.7 516.0 658.8C516.4 659.9 517.4 663.2 517.9 663.1C518.4 662.9 519.3 658.2 519.8 657.6C520.2 657.1 521.2 657.9 521.6 658.8C522.1 659.7 523.1 663.9 523.5 664.7C524.0 665.5 524.9 665.8 525.4 665.4C525.9 665.0 526.8 662.0 527.3 661.6C527.8 661.3 528.7 661.5 529.2 662.4C529.6 663.2 530.5 666.2 531.1 668.2C531.6 670.3 532.9 677.1 533.4 678.8C533.9 680.5 534.8 681.4 535.3 681.9C535.8 682.3 537.1 682.3 537.6 682.4C538.2 682.4 539.4 683.1 540.0 682.4C540.6 681.6 541.8 677.4 542.4 676.5C542.9 675.5 543.7 674.6 544.2 674.8C544.8 675.0 546.0 677.7 546.6 678.1C547.2 678.5 548.4 677.9 548.9 678.1C549.5 678.4 550.7 679.8 551.3 680.0C551.9 680.2 553.1 679.9 553.6 679.5C554.2 679.2 555.4 677.6 556.0 677.2C556.6 676.8 557.8 676.3 558.4 676.5C558.9 676.7 560.1 678.2 560.7 678.8C561.3 679.4 562.5 680.8 563.1 681.2C563.6 681.6 564.8 682.0 565.4 681.9C566.0 681.8 567.2 681.3 567.8 680.5C568.4 679.6 569.5 676.5 570.1 675.3C570.7 674.1 571.9 670.9 572.5 670.6C573.1 670.3 574.2 672.2 574.8 672.9C575.4 673.7 576.5 675.7 577.2 676.5C577.8 677.2 579.4 679.0 580.0 678.8C580.6 678.6 581.9 675.4 582.4 674.8C582.9 674.2 583.6 673.2 584.0 674.1C584.4 675.1 585.4 679.9 585.9 682.4C586.4 684.9 587.6 691.8 588.2 694.1C588.8 696.4 590.0 700.3 590.6 700.7C591.2 701.1 592.4 698.2 592.9 697.6C593.5 697.1 594.7 697.4 595.3 696.5C595.9 695.6 597.1 692.4 597.6 690.6C598.2 688.8 599.5 683.5 600.0 682.4C600.5 681.2 601.4 680.7 601.9 681.2C602.4 681.6 603.4 685.9 604.0 685.9C604.6 685.9 605.8 682.6 606.4 681.2C606.9 679.7 607.8 675.2 608.2 674.1C608.7 673.0 609.6 672.3 610.1 672.5C610.6 672.6 611.7 673.5 612.2 675.3C612.8 677.1 614.0 685.0 614.6 687.1C615.2 689.2 616.5 690.9 617.2 692.1C618.0 693.3 619.6 696.1 620.4 696.8C621.1 697.5 622.3 698.2 622.9 697.8C623.6 697.4 624.9 694.6 625.5 693.4C626.2 692.2 627.5 688.1 628.1 688.2C628.7 688.4 629.6 693.6 630.2 694.7C630.7 695.8 631.9 696.9 632.5 696.8C633.1 696.6 634.5 693.2 635.1 693.4C635.7 693.6 636.7 696.2 637.2 698.6C637.7 701.0 638.7 709.6 639.2 712.8C639.8 716.1 641.0 722.7 641.6 724.5C642.1 726.2 643.1 726.5 643.6 726.5C644.2 726.5 645.6 725.4 646.2 724.5C646.8 723.6 647.8 721.6 648.3 719.3C648.8 717.0 649.6 708.6 650.1 706.3C650.6 704.1 651.6 701.2 652.2 701.2C652.7 701.2 654.0 703.9 654.5 706.3C655.1 708.8 656.1 716.5 656.6 720.6C657.1 724.6 658.2 734.5 658.7 738.7C659.1 742.9 660.0 751.2 660.5 754.2C661.0 757.3 662.1 763.0 662.5 763.3C663.0 763.6 663.9 760.5 664.3 756.8C664.8 753.1 665.7 741.3 666.2 733.5C666.6 725.8 667.3 703.4 667.7 694.7C668.1 686.0 669.1 668.6 669.5 663.6C670.0 658.7 670.9 655.8 671.3 655.4C671.8 654.9 672.8 657.8 673.4 659.8C674.0 661.8 675.3 668.7 676.0 671.4C676.6 674.2 677.9 680.0 678.6 681.8C679.2 683.5 680.5 684.7 681.2 685.6C681.9 686.6 683.6 687.9 684.3 689.5C684.9 691.1 685.9 697.0 686.3 698.6C686.8 700.1 687.5 702.8 687.9 701.9C688.3 701.1 689.3 695.6 689.7 692.1C690.2 688.6 691.1 677.0 691.5 674.0C691.9 671.0 692.7 668.0 693.1 668.3C693.5 668.6 694.3 674.1 694.9 676.6C695.4 679.1 696.8 685.5 697.5 688.2C698.1 691.0 699.4 695.8 700.1 698.6C700.7 701.3 702.1 706.8 702.7 710.2C703.2 713.6 704.2 722.4 704.7 725.8C705.2 729.2 706.1 736.1 706.5 737.4C707.0 738.7 707.9 738.5 708.3 736.1C708.8 733.7 709.9 722.8 710.4 718.0C711.0 713.1 712.2 701.3 712.7 697.3C713.3 693.2 714.2 687.4 714.8 685.6C715.4 683.9 716.8 684.0 717.4 683.1C718.0 682.1 719.0 679.1 719.5 677.9C720.0 676.7 721.0 673.6 721.5 673.5C722.1 673.4 723.3 676.6 723.9 677.1C724.5 677.7 725.9 676.6 726.5 677.9C727.0 679.1 728.0 683.9 728.5 686.9C729.1 690.0 730.3 699.7 730.9 702.5C731.4 705.2 732.3 707.6 732.9 708.9C733.5 710.2 734.9 712.2 735.5 712.8C736.1 713.5 737.0 714.4 737.6 714.1C738.1 713.8 739.4 711.3 739.9 710.2C740.5 709.2 741.3 706.4 742.0 705.6C742.6 704.8 744.3 704.7 745.1 703.8C745.8 702.8 747.2 699.3 747.9 697.8C748.7 696.3 750.3 694.1 751.0 692.1C751.8 690.1 753.1 684.0 753.6 681.8C754.2 679.5 755.2 675.1 755.7 674.0C756.3 672.9 757.5 672.2 758.0 672.7C758.6 673.2 759.5 676.3 760.1 677.9C760.7 679.5 762.1 684.3 762.7 685.6C763.3 687.0 764.2 689.5 764.8 689.0C765.3 688.5 766.3 682.9 766.8 681.8C767.3 680.6 768.2 679.2 768.6 679.7C769.1 680.2 770.0 684.2 770.5 685.6C770.9 687.1 772.0 692.1 772.5 691.6C773.0 691.1 774.1 683.5 774.6 681.8C775.1 680.0 776.1 677.4 776.7 677.9C777.2 678.4 778.2 683.9 778.7 685.6C779.3 687.4 780.3 691.4 780.8 691.6C781.3 691.8 782.3 687.8 782.9 686.9C783.4 686.0 784.7 684.5 785.2 684.3C785.8 684.2 786.8 686.2 787.3 685.6C787.8 685.1 788.9 680.3 789.3 679.7C789.8 679.0 790.6 679.8 791.2 680.5C791.7 681.1 793.1 684.2 793.7 684.9C794.4 685.5 795.7 685.9 796.3 685.6C797.0 685.4 798.3 684.2 798.9 683.1C799.6 681.9 800.9 677.7 801.5 676.6C802.2 675.5 803.5 675.0 804.1 674.0C804.7 673.0 806.0 670.3 806.7 668.8C807.3 667.4 808.6 664.0 809.3 662.3C809.9 660.7 811.2 656.9 811.9 655.9C812.5 654.9 813.8 654.7 814.5 654.6C815.1 654.4 816.5 654.4 817.0 654.6C817.6 654.7 818.9 655.7 819.1 655.9"/>
<path stroke="#009de1" stroke-width="3.4" d="M49.9 882.9C50.0 882.1 51.5 874.5 51.8 872.4C52.1 870.2 53.3 858.4 53.6 857.1C54.0 855.7 55.2 856.2 55.5 855.9C55.8 855.6 57.1 853.1 57.4 853.5C57.7 853.9 59.0 859.1 59.3 860.6C59.6 862.1 60.9 872.0 61.2 871.2C61.5 870.4 62.8 854.2 63.1 851.2C63.4 848.1 64.4 836.1 64.7 834.7C65.0 833.3 66.1 833.1 66.4 834.7C66.6 836.3 67.5 850.4 67.8 853.5C68.0 856.7 69.3 871.6 69.6 872.4C70.0 873.1 71.4 864.0 71.8 862.9C72.1 861.9 73.3 859.6 73.6 859.4C74.0 859.2 75.4 860.1 75.8 860.6C76.1 861.1 77.3 864.7 77.6 865.3C78.0 865.9 79.2 867.7 79.5 867.6C79.9 867.6 81.5 865.2 81.9 864.8C82.3 864.5 83.6 863.9 84.0 863.4C84.4 863.0 86.0 860.0 86.4 859.4C86.7 858.8 87.9 855.9 88.2 855.9C88.5 855.9 89.8 859.3 90.1 859.4C90.5 859.5 91.9 857.6 92.2 857.1C92.6 856.5 94.2 852.9 94.6 852.4C95.0 851.8 96.6 850.5 96.9 850.7C97.3 850.9 98.5 853.6 98.8 854.7C99.1 855.8 100.4 863.0 100.7 864.1C101.0 865.2 102.1 868.2 102.4 867.6C102.6 867.1 103.9 858.0 104.2 857.1C104.5 856.1 105.6 855.4 105.9 855.9C106.2 856.4 107.5 862.1 107.8 862.9C108.1 863.8 109.1 866.3 109.4 866.5C109.7 866.7 111.0 865.1 111.3 865.3C111.6 865.5 112.6 868.2 112.9 868.8C113.2 869.4 114.5 873.2 114.8 872.4C115.1 871.5 116.2 860.3 116.5 858.2C116.7 856.2 117.8 848.1 118.1 847.6C118.4 847.2 119.7 850.9 120.0 852.4C120.3 853.8 121.4 863.8 121.6 865.3C121.9 866.8 122.8 870.6 123.1 870.0C123.3 869.4 124.4 859.9 124.7 858.2C125.0 856.6 126.1 850.3 126.4 850.0C126.6 849.7 127.9 853.8 128.2 854.7C128.5 855.6 129.6 860.7 129.9 860.6C130.2 860.5 131.5 854.3 131.8 853.5C132.1 852.7 133.1 850.4 133.4 851.2C133.7 852.0 134.8 860.9 135.1 862.9C135.3 865.0 136.2 874.5 136.5 875.9C136.7 877.2 137.6 879.8 137.9 878.9C138.1 878.1 139.3 867.3 139.5 865.3C139.8 863.3 140.9 854.9 141.2 854.7C141.5 854.5 142.6 861.7 142.8 862.9C143.1 864.2 144.0 870.4 144.2 870.0C144.5 869.6 145.6 860.1 145.9 858.2C146.2 856.4 147.3 848.6 147.5 847.6C147.8 846.7 148.7 846.0 148.9 846.5C149.2 847.0 150.3 852.5 150.6 853.5C150.9 854.6 152.1 859.4 152.5 859.4C152.8 859.5 154.3 854.3 154.6 854.0C154.9 853.7 156.2 855.4 156.5 855.9C156.8 856.3 158.0 859.3 158.4 859.4C158.7 859.5 160.1 856.8 160.5 857.1C160.8 857.4 162.1 861.5 162.4 862.9C162.6 864.4 163.7 873.2 164.0 874.7C164.3 876.2 165.4 881.0 165.6 880.6C165.9 880.2 167.0 872.1 167.3 870.0C167.6 867.9 168.7 857.3 168.9 855.9C169.2 854.5 170.3 852.8 170.6 853.1C170.9 853.4 171.9 858.6 172.2 859.4C172.5 860.2 173.8 862.8 174.1 862.9C174.4 863.0 175.7 860.5 176.0 860.6C176.3 860.7 177.8 864.0 178.1 864.1C178.5 864.2 179.7 862.5 180.0 861.8C180.3 861.0 181.5 855.9 181.9 854.7C182.2 853.5 183.7 848.5 184.0 847.6C184.3 846.8 185.6 844.8 185.9 844.6C186.2 844.4 187.4 844.6 187.8 845.3C188.1 845.9 189.5 851.2 189.9 852.4C190.2 853.5 191.5 858.6 191.8 859.4C192.1 860.2 193.3 862.0 193.6 861.8C194.0 861.6 195.4 857.6 195.8 857.1C196.1 856.5 197.3 855.3 197.6 855.4C198.0 855.5 199.2 858.1 199.5 858.7C199.9 859.3 201.3 863.5 201.6 862.9C202.0 862.4 203.2 854.3 203.5 852.4C203.8 850.4 204.9 840.6 205.2 839.4C205.5 838.2 206.5 837.4 206.8 838.2C207.1 839.1 208.2 847.9 208.5 850.0C208.7 852.1 209.8 861.6 210.1 862.9C210.4 864.3 211.5 866.8 211.8 866.5C212.1 866.2 213.3 860.1 213.6 859.4C214.0 858.7 215.2 859.1 215.5 858.2C215.9 857.4 217.3 850.1 217.6 848.8C218.0 847.5 219.0 843.3 219.3 842.9C219.6 842.5 220.6 843.5 220.9 844.1C221.2 844.7 222.5 849.1 222.8 850.0C223.2 850.9 224.8 854.4 225.2 854.7C225.6 855.0 227.1 853.7 227.5 853.5C227.9 853.3 229.5 852.2 229.9 852.4C230.3 852.5 231.8 855.1 232.2 855.4C232.6 855.7 234.3 856.0 234.6 855.9C234.9 855.8 235.4 853.8 235.6 854.1C235.9 854.5 237.2 859.2 237.5 860.0C237.8 860.8 239.1 863.9 239.4 863.5C239.7 863.1 240.8 856.1 241.1 855.3C241.3 854.5 242.2 853.3 242.5 854.1C242.7 854.9 243.8 863.2 244.1 864.7C244.4 866.2 245.7 871.9 246.0 871.8C246.3 871.7 247.4 865.1 247.6 863.5C247.9 862.0 249.0 853.9 249.3 852.9C249.6 852.0 250.9 851.5 251.2 851.8C251.5 852.1 252.7 855.7 253.1 856.5C253.4 857.3 254.8 860.7 255.2 861.2C255.5 861.6 256.7 861.7 257.1 861.6C257.4 861.5 258.6 859.9 258.9 860.0C259.3 860.1 260.7 862.1 261.1 862.4C261.4 862.6 262.6 864.2 262.9 863.5C263.2 862.8 264.3 855.2 264.6 854.1C264.8 853.0 265.7 850.6 266.0 850.6C266.3 850.6 267.4 853.3 267.6 854.1C267.9 854.9 269.2 859.8 269.5 860.0C269.8 860.2 271.1 857.0 271.4 856.5C271.7 856.0 273.2 854.1 273.5 854.1C273.9 854.1 275.1 855.8 275.4 856.5C275.7 857.2 277.2 861.3 277.5 862.4C277.9 863.4 279.1 868.1 279.4 868.7C279.7 869.4 280.6 870.7 280.8 870.1C281.1 869.5 282.0 862.8 282.2 861.2C282.5 859.5 283.8 851.8 284.1 850.6C284.5 849.4 286.1 848.7 286.5 847.1C286.8 845.4 288.0 834.7 288.4 830.6C288.7 826.5 289.9 801.7 290.2 797.6C290.5 793.6 291.6 783.5 291.9 782.4C292.2 781.2 293.3 781.9 293.5 783.5C293.8 785.2 294.9 797.8 295.2 802.4C295.4 806.9 296.4 832.7 296.6 837.6C296.8 842.5 297.8 859.0 298.0 861.2C298.2 863.3 299.0 865.1 299.2 863.5C299.4 862.0 300.4 845.4 300.6 842.4C300.8 839.3 301.8 828.0 302.0 827.1C302.2 826.1 303.2 828.7 303.4 830.6C303.6 832.5 304.6 846.7 304.8 849.4C305.1 852.2 306.0 862.5 306.2 863.5C306.5 864.6 307.4 862.3 307.6 862.4C307.9 862.5 308.8 863.9 309.1 864.7C309.3 865.5 310.2 871.6 310.5 872.5C310.7 873.4 311.6 875.8 311.9 875.3C312.1 874.7 313.3 867.5 313.5 865.9C313.8 864.3 314.9 857.6 315.2 856.5C315.5 855.3 316.8 853.9 317.1 851.8C317.4 849.6 318.5 834.7 318.7 830.6C319.0 826.5 319.9 805.8 320.1 802.4C320.4 798.9 321.5 790.3 321.8 789.4C322.0 788.5 322.9 789.5 323.2 791.8C323.4 794.0 324.4 812.5 324.6 816.5C324.8 820.5 325.8 837.5 326.0 840.0C326.2 842.5 327.1 846.3 327.4 846.6C327.7 846.9 329.0 843.6 329.3 843.5C329.6 843.5 330.9 845.6 331.2 845.9C331.5 846.1 332.8 846.0 333.1 846.6C333.4 847.2 334.4 851.8 334.7 852.9C335.0 854.1 336.1 859.2 336.4 860.0C336.6 860.8 337.5 863.0 337.8 862.4C338.0 861.7 339.1 853.2 339.4 851.8C339.7 850.3 340.8 845.1 341.1 844.7C341.3 844.3 342.2 846.3 342.5 847.1C342.7 847.8 343.8 853.3 344.1 854.1C344.4 854.9 345.5 856.4 345.8 856.5C346.1 856.5 347.3 854.2 347.6 854.6C348.0 855.0 349.2 860.2 349.5 861.2C349.8 862.1 350.9 865.4 351.2 865.9C351.4 866.4 352.3 867.6 352.6 867.1C352.8 866.5 354.0 861.3 354.2 858.8C354.5 856.4 355.6 841.6 355.9 837.6C356.2 833.7 357.3 815.2 357.5 811.8C357.8 808.3 358.9 797.9 359.2 796.5C359.5 795.1 360.5 793.9 360.8 794.8C361.1 795.7 362.2 804.1 362.5 807.1C362.7 810.0 363.8 827.1 364.1 830.6C364.4 834.1 365.5 847.4 365.8 849.4C366.0 851.5 367.1 855.2 367.4 855.3C367.7 855.4 369.0 851.1 369.3 850.6C369.6 850.1 370.9 848.9 371.2 848.9C371.5 848.9 372.8 850.7 373.1 850.6C373.4 850.4 374.4 848.1 374.7 847.1C375.0 846.0 376.3 839.2 376.6 837.6C376.9 836.1 378.4 830.8 378.7 828.2C379.0 825.7 380.3 811.0 380.6 807.1C380.9 803.1 382.0 784.2 382.2 781.2C382.5 778.1 383.6 771.2 383.9 770.6C384.1 770.0 385.1 771.5 385.3 774.1C385.5 776.8 386.5 797.8 386.7 802.4C386.9 806.9 387.9 825.5 388.1 828.2C388.4 831.0 389.3 835.3 389.5 835.3C389.8 835.3 390.9 828.9 391.2 828.2C391.4 827.5 392.3 826.9 392.6 827.1C392.8 827.3 394.0 832.1 394.2 830.6C394.5 829.1 395.4 812.4 395.6 809.4C395.9 806.5 396.8 796.5 397.1 795.3C397.3 794.1 398.0 793.3 398.2 794.8C398.4 796.4 399.2 810.4 399.4 814.1C399.6 817.9 400.6 836.5 400.8 840.0C401.1 843.5 402.0 854.9 402.2 856.5C402.5 858.0 403.4 857.6 403.6 858.8C403.9 860.0 404.8 868.4 405.1 870.6C405.3 872.7 406.2 883.4 406.5 884.7C406.7 886.0 407.6 886.7 407.9 885.9C408.1 885.1 409.1 876.4 409.3 875.3C409.5 874.2 410.5 872.7 410.7 872.9C411.0 873.1 412.1 878.4 412.4 877.6C412.6 876.9 413.7 865.4 414.0 863.5C414.3 861.7 415.2 855.9 415.4 855.3C415.6 854.7 416.6 855.8 416.8 856.5C417.1 857.2 418.0 862.6 418.2 863.5C418.5 864.5 419.8 867.7 420.1 867.8C420.5 867.9 421.9 864.9 422.2 864.7C422.6 864.5 424.2 865.8 424.6 865.4C425.0 865.0 426.7 860.3 427.1 860.1C427.5 859.9 429.0 862.6 429.4 862.9C429.8 863.3 431.4 864.0 431.8 864.1C432.2 864.2 433.8 864.8 434.1 864.1C434.5 863.4 435.7 857.1 436.0 855.9C436.3 854.7 437.4 850.2 437.6 850.0C437.9 849.8 439.0 852.5 439.3 853.5C439.6 854.6 440.9 862.4 441.2 862.9C441.5 863.5 442.7 860.5 443.1 860.1C443.4 859.7 445.0 858.5 445.4 858.2C445.8 858.0 447.2 856.7 447.5 857.1C447.9 857.5 449.1 861.7 449.4 862.9C449.8 864.2 451.4 872.2 451.8 872.4C452.1 872.5 453.1 867.3 453.4 865.3C453.7 863.3 455.0 849.6 455.3 848.8C455.6 848.0 456.7 854.1 456.9 855.9C457.2 857.6 458.1 870.2 458.4 870.0C458.6 869.8 459.7 855.6 460.0 853.5C460.3 851.5 461.4 844.7 461.6 845.3C461.9 845.9 462.8 857.5 463.1 860.6C463.3 863.7 464.4 882.0 464.7 882.9C465.0 883.9 466.1 874.8 466.4 872.4C466.6 869.9 467.7 855.3 468.0 853.5C468.3 851.8 469.2 851.2 469.4 851.6C469.7 852.1 470.8 859.3 471.1 859.4C471.3 859.6 472.5 854.5 472.7 853.5C473.0 852.5 473.9 847.7 474.1 847.6C474.4 847.5 475.5 851.4 475.8 852.4C476.0 853.3 477.1 858.3 477.4 858.7C477.7 859.1 479.0 856.5 479.3 857.1C479.6 857.6 480.9 864.1 481.2 865.3C481.5 866.5 482.5 871.6 482.8 871.2C483.1 870.8 484.2 862.1 484.5 860.6C484.8 859.1 486.0 853.7 486.4 853.5C486.7 853.3 487.9 858.2 488.2 858.2C488.5 858.2 489.8 854.4 490.1 853.5C490.4 852.6 491.5 847.9 491.8 847.6C492.1 847.4 493.4 850.0 493.6 850.7C493.9 851.4 495.0 856.2 495.3 855.9C495.6 855.5 496.7 847.4 496.9 846.5C497.2 845.6 498.1 844.3 498.4 845.3C498.6 846.3 499.7 856.5 500.0 858.2C500.3 860.0 501.4 866.7 501.6 866.5C501.9 866.3 503.0 857.1 503.3 855.9C503.5 854.6 504.5 851.5 504.7 851.6C505.0 851.8 506.1 857.5 506.4 858.2C506.6 859.0 507.7 861.2 508.0 860.6C508.3 860.0 509.4 852.8 509.6 851.2C509.9 849.5 511.0 841.7 511.3 840.6C511.6 839.5 512.7 837.9 512.9 838.2C513.2 838.5 514.3 842.5 514.6 844.1C514.9 845.8 516.2 857.5 516.5 858.2C516.8 859.0 517.8 855.3 518.1 853.5C518.4 851.8 519.5 838.8 519.8 837.1C520.0 835.3 520.9 832.6 521.2 832.8C521.4 833.0 522.5 838.0 522.8 839.4C523.1 840.8 524.2 848.6 524.5 850.0C524.8 851.4 526.0 855.0 526.4 855.9C526.7 856.8 527.9 859.5 528.2 860.6C528.5 861.7 529.6 868.8 529.9 868.8C530.2 868.8 531.2 862.0 531.5 860.6C531.8 859.2 533.1 853.0 533.4 852.4C533.7 851.7 535.0 852.6 535.3 852.4C535.6 852.1 536.9 849.0 537.2 849.3C537.5 849.6 538.5 854.4 538.8 855.9C539.1 857.4 540.2 866.0 540.5 867.6C540.7 869.3 541.6 875.4 541.9 875.2C542.1 875.0 543.3 867.0 543.5 865.3C543.8 863.6 544.9 855.4 545.2 854.7C545.5 854.0 546.7 856.4 547.1 857.1C547.4 857.7 548.6 862.3 548.9 862.5C549.3 862.7 550.5 859.9 550.8 859.4C551.1 859.0 552.2 856.6 552.5 857.1C552.7 857.5 553.8 865.2 554.1 865.3C554.4 865.4 555.7 859.5 556.0 858.2C556.3 857.0 557.4 851.0 557.6 850.7C557.9 850.4 559.2 853.7 559.5 854.7C559.8 855.7 560.9 862.6 561.2 862.9C561.5 863.2 562.7 858.8 563.1 858.2C563.4 857.6 564.8 856.2 565.2 855.9C565.5 855.6 566.8 855.4 567.1 854.7C567.4 854.0 568.4 848.4 568.7 847.6C569.0 846.9 570.3 844.9 570.6 845.3C570.9 845.7 572.2 851.3 572.5 852.4C572.8 853.4 573.8 858.5 574.1 858.2C574.4 857.9 575.5 849.8 575.8 848.8C576.0 847.8 576.9 845.8 577.2 846.0C577.4 846.2 578.5 850.2 578.8 851.2C579.1 852.2 580.4 857.7 580.7 858.2C581.0 858.7 582.5 856.9 582.8 857.1C583.2 857.3 584.4 859.9 584.7 860.6C585.1 861.3 586.7 865.8 587.1 865.8C587.5 865.8 589.1 861.1 589.4 860.6C589.8 860.1 591.0 858.9 591.3 859.4C591.6 859.9 593.1 866.4 593.4 866.5C593.7 866.6 595.0 861.8 595.3 860.6C595.6 859.4 596.8 853.2 597.2 852.4C597.5 851.5 599.0 849.6 599.3 850.0C599.6 850.4 600.9 856.2 601.2 857.1C601.5 857.9 602.7 860.1 603.1 860.6C603.4 861.1 604.8 862.5 605.2 862.9C605.5 863.3 606.7 864.7 607.1 865.3C607.4 865.8 608.6 869.9 608.9 869.5C609.3 869.1 610.7 861.8 611.1 860.6C611.4 859.4 612.6 855.1 612.9 854.7C613.3 854.3 614.6 855.8 614.8 855.9C615.1 855.9 615.4 855.9 615.7 855.3C615.9 854.7 617.4 848.9 617.8 848.8C618.1 848.7 619.3 852.7 619.6 854.0C619.9 855.3 621.1 863.9 621.4 864.3C621.7 864.8 623.1 859.2 623.5 859.2C623.8 859.2 625.2 863.5 625.5 864.3C625.9 865.2 627.3 869.7 627.6 869.5C627.9 869.3 629.3 862.5 629.7 861.8C630.0 861.0 631.6 860.5 632.0 860.5C632.4 860.5 634.2 861.1 634.6 861.8C635.0 862.4 636.3 866.1 636.7 868.2C637.0 870.4 638.6 884.5 639.0 887.6C639.4 890.8 641.2 903.8 641.6 905.8C642.0 907.7 643.3 911.9 643.6 911.4C644.0 911.0 645.1 903.4 645.5 900.6C645.8 897.7 647.2 880.2 647.5 877.3C647.8 874.4 649.0 866.8 649.3 865.6C649.7 864.5 651.1 862.7 651.4 863.1C651.8 863.4 653.1 867.3 653.5 869.5C653.8 871.8 655.2 886.6 655.5 890.2C655.9 893.9 657.5 909.4 657.9 913.5C658.2 917.6 659.6 935.1 659.9 939.4C660.3 943.7 661.5 962.0 661.8 965.3C662.1 968.5 663.3 977.8 663.6 978.2C663.9 978.7 664.8 973.3 665.1 970.5C665.4 967.7 666.6 949.3 666.9 944.6C667.3 939.8 668.6 918.7 669.0 913.5C669.4 908.3 671.0 886.3 671.3 882.5C671.7 878.6 673.1 868.6 673.4 866.9C673.8 865.3 675.2 863.2 675.5 863.1C675.8 862.9 677.0 864.8 677.3 865.6C677.6 866.5 678.8 872.4 679.1 873.4C679.4 874.4 680.2 878.3 680.4 877.8C680.6 877.3 681.7 868.6 681.9 866.9C682.2 865.3 683.5 858.4 683.8 857.9C684.1 857.3 685.2 860.7 685.6 860.5C685.9 860.3 687.3 856.2 687.6 855.3C688.0 854.4 689.4 850.2 689.7 850.1C690.0 850.0 691.2 853.2 691.5 854.0C691.8 854.8 693.0 858.5 693.3 859.2C693.7 859.8 695.0 861.3 695.4 861.8C695.8 862.2 697.6 865.1 698.0 864.9C698.4 864.6 699.5 859.7 699.8 859.2C700.1 858.7 701.1 857.8 701.4 858.7C701.6 859.5 702.4 866.5 702.7 869.5C702.9 872.6 703.9 891.7 704.2 895.4C704.5 899.1 705.5 911.6 705.8 913.5C706.0 915.5 706.8 919.1 707.0 918.7C707.3 918.3 708.3 911.8 708.6 908.3C708.9 904.9 710.1 881.3 710.4 877.3C710.7 873.3 712.0 862.0 712.2 860.5C712.5 859.0 713.3 858.2 713.5 859.2C713.8 860.1 714.8 870.4 715.1 872.1C715.3 873.8 716.4 879.6 716.6 879.4C716.9 879.1 717.9 871.5 718.2 869.5C718.5 867.5 719.7 856.7 720.0 855.3C720.3 853.9 721.3 852.3 721.5 852.7C721.8 853.1 722.8 859.7 723.1 860.5C723.4 861.2 724.4 862.6 724.6 861.8C724.9 860.9 725.9 851.3 726.2 850.1C726.5 848.9 727.5 846.6 727.8 847.0C728.0 847.4 728.8 853.2 729.0 855.3C729.3 857.4 730.3 870.0 730.6 872.1C730.9 874.3 731.9 880.4 732.2 881.2C732.5 882.0 733.9 880.8 734.2 881.9C734.5 883.1 735.7 893.0 736.0 895.4C736.3 897.8 737.6 909.4 737.8 910.9C738.1 912.5 739.1 914.5 739.4 914.0C739.7 913.6 740.7 908.6 741.0 905.8C741.2 902.9 742.2 884.2 742.5 879.9C742.8 875.6 743.8 856.9 744.1 854.0C744.3 851.1 745.4 845.6 745.6 844.9C745.9 844.2 746.9 844.9 747.2 845.7C747.4 846.6 748.4 854.2 748.7 855.3C749.0 856.4 750.2 859.0 750.5 859.2C750.9 859.4 752.4 858.1 752.9 857.9C753.3 857.7 755.0 856.9 755.4 856.6C755.9 856.3 757.6 854.8 758.0 854.5C758.4 854.3 759.7 853.8 760.1 853.5C760.5 853.1 762.3 850.1 762.7 850.1C763.1 850.2 764.2 853.2 764.5 854.0C764.8 854.8 766.0 859.3 766.3 859.2C766.6 859.1 767.6 853.4 767.9 852.7C768.1 852.0 769.2 850.4 769.4 850.9C769.7 851.4 770.7 857.6 771.0 859.2C771.2 860.7 772.3 868.3 772.5 869.5C772.8 870.7 773.8 873.8 774.1 873.4C774.3 873.0 775.4 866.2 775.6 864.3C775.9 862.5 777.2 852.7 777.4 851.4C777.7 850.1 778.7 848.0 779.0 848.3C779.3 848.6 780.5 854.0 780.8 855.3C781.1 856.6 782.3 863.5 782.6 863.8C782.9 864.2 784.4 859.9 784.7 859.2C785.0 858.5 786.2 855.2 786.5 855.3C786.8 855.4 788.2 860.1 788.6 860.5C788.9 860.8 790.3 859.2 790.6 859.2C791.0 859.2 792.2 859.6 792.5 860.5C792.8 861.3 794.0 868.3 794.3 869.5C794.5 870.7 795.5 874.8 795.8 874.7C796.1 874.6 797.3 869.1 797.6 868.2C798.0 867.4 799.3 864.4 799.7 864.3C800.1 864.3 801.7 867.3 802.0 867.5C802.4 867.6 803.8 866.3 804.1 865.6C804.4 865.0 805.9 859.9 806.2 859.2C806.5 858.4 807.5 856.0 807.7 856.6C808.0 857.1 809.0 864.3 809.3 865.6C809.5 867.0 810.6 873.2 810.8 872.9C811.1 872.6 812.1 863.7 812.4 861.8C812.6 859.9 813.7 851.3 813.9 850.1C814.2 848.9 815.2 847.1 815.5 847.5C815.7 848.0 816.8 854.3 817.0 855.3C817.3 856.3 818.2 858.8 818.3 859.2"/>
<path stroke="#ff0000" stroke-width="3.4" d="M49.9 1032.9C50.0 1033.6 51.5 1042.8 51.8 1042.8C52.0 1042.8 53.4 1034.0 53.6 1032.9C53.9 1031.9 55.3 1027.9 55.5 1028.2C55.8 1028.6 57.1 1037.3 57.4 1037.6C57.7 1038.0 59.0 1033.1 59.3 1032.9C59.6 1032.8 60.9 1034.7 61.2 1035.3C61.4 1035.9 62.8 1041.2 63.1 1041.2C63.3 1041.2 64.9 1036.1 65.2 1035.3C65.5 1034.5 67.2 1029.8 67.5 1030.1C67.9 1030.5 69.5 1038.7 69.9 1040.0C70.2 1041.3 71.9 1048.4 72.2 1048.2C72.6 1048.1 74.3 1039.0 74.6 1037.6C74.9 1036.3 76.6 1030.3 76.9 1029.4C77.2 1028.6 78.5 1025.8 78.8 1025.9C79.1 1026.0 80.8 1029.7 81.2 1030.6C81.5 1031.4 83.2 1037.0 83.5 1037.6C83.9 1038.3 85.5 1039.8 85.9 1039.5C86.2 1039.3 87.9 1034.8 88.2 1034.1C88.5 1033.4 89.6 1029.9 89.9 1030.1C90.1 1030.4 91.5 1036.5 91.8 1037.6C92.1 1038.8 93.8 1046.1 94.1 1045.9C94.4 1045.7 95.7 1036.4 96.0 1035.3C96.3 1034.2 97.6 1029.9 97.9 1030.1C98.2 1030.3 99.5 1036.7 99.8 1037.6C100.0 1038.6 101.4 1044.0 101.6 1043.5C101.9 1043.0 103.3 1031.8 103.5 1030.6C103.8 1029.3 104.9 1025.7 105.2 1025.9C105.4 1026.1 106.8 1032.1 107.1 1032.9C107.3 1033.8 108.5 1037.8 108.7 1037.6C109.0 1037.5 110.3 1030.8 110.6 1030.6C110.9 1030.4 112.2 1034.7 112.5 1035.3C112.8 1035.9 114.5 1038.8 114.8 1038.8C115.2 1038.8 116.8 1035.2 117.2 1035.3C117.5 1035.3 119.2 1039.1 119.5 1039.5C119.8 1040.0 120.9 1042.2 121.2 1041.9C121.4 1041.6 122.8 1036.1 123.1 1035.3C123.3 1034.5 124.9 1030.7 125.2 1030.6C125.5 1030.5 127.1 1033.9 127.5 1034.1C127.9 1034.4 130.2 1034.1 130.6 1034.1C131.0 1034.1 133.2 1034.2 133.6 1034.1C134.1 1034.0 136.1 1032.4 136.5 1032.5C136.8 1032.6 138.5 1035.9 138.8 1035.8C139.2 1035.6 140.9 1031.0 141.2 1030.6C141.5 1030.2 142.8 1029.9 143.1 1030.6C143.3 1031.3 144.9 1039.2 145.2 1040.0C145.5 1040.8 146.8 1042.0 147.1 1041.2C147.3 1040.3 148.5 1029.5 148.7 1028.2C148.9 1026.9 149.9 1023.1 150.1 1023.1C150.3 1023.1 151.5 1027.1 151.8 1028.2C152.0 1029.4 153.4 1037.9 153.6 1038.8C153.9 1039.7 155.0 1041.1 155.3 1041.2C155.6 1041.3 157.3 1040.1 157.6 1040.0C158.0 1039.9 159.7 1040.4 160.0 1040.5C160.3 1040.6 162.1 1041.5 162.4 1041.2C162.7 1040.8 163.9 1036.2 164.2 1035.3C164.5 1034.4 166.1 1028.5 166.4 1028.2C166.6 1028.0 168.0 1031.6 168.2 1031.8C168.5 1031.9 169.8 1030.7 170.1 1030.6C170.4 1030.5 171.9 1029.6 172.2 1030.1C172.5 1030.6 173.8 1036.7 174.1 1037.6C174.4 1038.6 175.7 1042.8 176.0 1042.8C176.3 1042.8 178.0 1038.1 178.4 1037.6C178.7 1037.2 180.4 1036.8 180.7 1036.5C181.0 1036.1 182.8 1032.9 183.1 1032.9C183.4 1033.0 184.7 1037.1 184.9 1037.6C185.2 1038.2 186.8 1041.2 187.1 1041.2C187.3 1041.2 188.7 1037.6 188.9 1037.6C189.2 1037.6 190.3 1040.6 190.6 1041.2C190.9 1041.8 192.6 1046.3 192.9 1045.9C193.2 1045.5 194.6 1036.4 194.8 1035.3C195.1 1034.2 196.2 1029.9 196.5 1030.1C196.7 1030.3 197.9 1036.7 198.1 1037.6C198.4 1038.6 199.7 1044.0 200.0 1043.5C200.3 1043.0 201.6 1031.9 201.9 1030.6C202.1 1029.3 203.3 1025.2 203.5 1025.4C203.8 1025.6 205.2 1032.0 205.4 1032.9C205.7 1033.9 206.8 1038.7 207.1 1038.8C207.3 1038.9 208.7 1034.7 208.9 1034.1C209.2 1033.5 210.7 1030.6 211.1 1030.6C211.4 1030.5 213.1 1033.2 213.4 1033.4C213.8 1033.7 215.6 1034.2 216.0 1034.1C216.4 1034.1 218.0 1032.5 218.4 1032.5C218.7 1032.5 220.4 1034.4 220.7 1034.1C221.0 1033.8 222.7 1029.2 223.1 1028.2C223.4 1027.3 225.1 1022.5 225.4 1021.2C225.7 1019.8 227.2 1011.4 227.5 1009.4C227.8 1007.4 229.2 994.3 229.4 992.9C229.6 991.6 230.4 990.3 230.6 990.6C230.8 990.9 231.8 995.6 232.0 997.6C232.2 999.7 233.4 1016.1 233.6 1018.8C233.9 1021.5 235.2 1034.5 235.4 1035.3C235.7 1036.1 236.8 1029.9 237.1 1029.4C237.3 1028.9 239.1 1027.8 239.4 1028.2C239.7 1028.7 241.0 1034.7 241.3 1035.3C241.5 1035.9 242.7 1036.9 242.9 1036.5C243.2 1036.1 244.3 1030.0 244.6 1029.4C244.8 1028.8 246.2 1027.8 246.5 1028.2C246.7 1028.7 248.1 1034.7 248.4 1035.3C248.6 1035.9 249.8 1036.9 250.0 1036.5C250.2 1036.1 251.4 1030.2 251.6 1029.4C251.9 1028.7 253.2 1026.3 253.5 1025.9C253.8 1025.5 255.5 1024.0 255.9 1023.5C256.2 1023.0 257.9 1019.7 258.2 1018.8C258.5 1018.0 259.9 1013.8 260.1 1011.8C260.4 1009.7 261.5 994.5 261.8 990.6C262.0 986.7 263.2 961.3 263.4 957.6C263.6 953.9 264.6 939.7 264.8 938.8C265.0 938.0 266.0 943.0 266.2 945.9C266.4 948.7 267.4 974.5 267.6 978.8C267.9 983.2 269.0 1004.4 269.3 1007.1C269.5 1009.7 270.9 1015.3 271.2 1016.5C271.4 1017.6 272.6 1022.3 272.8 1023.5C273.1 1024.8 274.4 1033.3 274.7 1034.1C275.0 1034.9 276.3 1035.1 276.6 1034.8C276.9 1034.5 278.4 1030.1 278.7 1030.1C279.0 1030.2 280.3 1034.7 280.6 1035.3C280.9 1035.9 282.2 1039.0 282.5 1038.8C282.8 1038.7 284.3 1033.4 284.6 1032.9C284.9 1032.5 286.2 1032.5 286.5 1032.9C286.7 1033.4 288.1 1038.2 288.4 1038.8C288.6 1039.4 290.2 1041.8 290.5 1041.2C290.8 1040.6 292.1 1031.3 292.4 1030.6C292.6 1029.8 294.0 1030.2 294.2 1030.6C294.5 1031.0 295.6 1035.9 295.9 1036.5C296.1 1037.1 297.5 1039.3 297.8 1038.8C298.0 1038.3 299.2 1030.2 299.4 1029.4C299.6 1028.6 300.8 1027.0 301.1 1027.8C301.3 1028.5 302.7 1038.7 302.9 1040.0C303.2 1041.3 304.6 1046.2 304.8 1045.9C305.1 1045.5 306.4 1036.6 306.7 1035.3C307.0 1033.9 308.5 1027.7 308.8 1027.1C309.1 1026.4 310.5 1026.4 310.7 1026.4C311.0 1026.4 312.1 1026.3 312.4 1027.1C312.6 1027.9 314.0 1036.6 314.2 1037.6C314.5 1038.7 315.8 1041.5 316.1 1041.2C316.4 1040.8 317.7 1033.6 318.0 1032.9C318.3 1032.3 319.6 1032.4 319.9 1032.5C320.2 1032.6 321.5 1033.9 321.8 1034.1C322.0 1034.3 323.2 1035.8 323.4 1035.3C323.7 1034.8 325.0 1027.9 325.3 1027.1C325.6 1026.2 327.4 1024.8 327.6 1023.5C327.9 1022.3 329.1 1012.3 329.3 1009.4C329.5 1006.6 330.5 986.1 330.7 983.5C330.9 980.9 331.9 973.3 332.1 972.9C332.3 972.6 333.3 977.1 333.5 978.8C333.7 980.6 334.9 995.7 335.2 997.6C335.4 999.6 336.8 1005.1 337.1 1005.9C337.3 1006.7 338.7 1008.7 338.9 1008.9C339.2 1009.2 340.4 1010.7 340.6 1009.4C340.8 1008.1 342.0 994.1 342.2 990.6C342.5 987.1 343.4 962.8 343.6 960.0C343.8 957.2 344.9 951.8 345.1 951.8C345.3 951.8 346.3 957.6 346.5 960.0C346.7 962.4 347.9 982.7 348.1 985.9C348.4 989.1 349.7 1002.5 350.0 1004.7C350.3 1006.9 351.6 1015.3 351.9 1016.5C352.2 1017.6 353.5 1021.7 353.8 1021.2C354.1 1020.7 355.6 1011.3 355.9 1009.4C356.2 1007.6 357.5 997.8 357.8 995.3C358.0 992.8 359.2 976.5 359.4 974.1C359.6 971.8 360.6 963.2 360.8 962.4C361.0 961.5 362.0 961.0 362.2 962.4C362.4 963.7 363.4 977.8 363.6 981.2C363.9 984.5 365.1 1006.1 365.3 1009.4C365.5 1012.8 366.7 1026.6 366.9 1028.2C367.2 1029.8 368.6 1030.8 368.8 1031.8C369.1 1032.8 370.2 1041.3 370.5 1042.4C370.7 1043.4 372.1 1046.2 372.4 1045.9C372.6 1045.5 373.9 1038.4 374.2 1037.6C374.5 1036.9 376.1 1036.1 376.4 1035.3C376.6 1034.5 377.9 1027.6 378.2 1025.9C378.5 1024.2 380.3 1013.8 380.6 1011.8C380.9 1009.7 382.6 1000.0 382.9 997.6C383.2 995.3 384.6 981.3 384.8 978.8C385.1 976.3 386.2 963.7 386.5 962.4C386.7 961.0 387.9 959.2 388.1 959.5C388.3 959.9 389.3 964.8 389.5 967.1C389.7 969.3 390.9 987.6 391.2 990.6C391.4 993.6 392.6 1007.6 392.8 1009.4C393.1 1011.3 394.5 1015.6 394.7 1016.5C395.0 1017.3 396.1 1020.0 396.4 1021.2C396.6 1022.4 398.0 1031.9 398.2 1032.9C398.5 1033.9 399.8 1035.3 400.1 1035.3C400.4 1035.3 401.9 1032.7 402.2 1032.9C402.5 1033.2 403.8 1038.8 404.1 1038.8C404.4 1038.8 405.7 1033.7 406.0 1032.9C406.3 1032.2 407.6 1028.5 407.9 1028.2C408.2 1028.0 409.7 1029.5 410.0 1029.4C410.3 1029.3 411.6 1027.0 411.9 1027.1C412.1 1027.1 413.3 1030.1 413.5 1030.6C413.8 1031.1 415.2 1035.3 415.4 1034.1C415.7 1032.9 416.8 1016.9 417.1 1014.1C417.3 1011.3 418.5 996.8 418.7 995.3C418.9 993.8 419.9 992.7 420.1 993.4C420.3 994.1 421.5 1003.2 421.8 1004.7C422.0 1006.2 423.4 1012.4 423.6 1014.1C423.9 1015.8 425.6 1026.9 425.9 1028.8C426.2 1030.7 427.3 1039.9 427.5 1040.6C427.8 1041.3 429.2 1039.2 429.4 1038.2C429.7 1037.3 430.8 1028.0 431.1 1027.6C431.3 1027.3 432.7 1033.0 432.9 1033.5C433.2 1034.0 434.6 1035.1 434.8 1034.7C435.1 1034.3 436.2 1027.6 436.5 1027.6C436.7 1027.7 438.1 1034.7 438.4 1035.9C438.6 1037.1 439.8 1044.3 440.0 1044.1C440.2 1043.9 441.4 1035.6 441.6 1033.5C441.9 1031.4 443.3 1016.9 443.5 1014.7C443.8 1012.5 445.1 1004.0 445.4 1002.9C445.7 1001.9 447.2 1000.5 447.5 1000.1C447.8 999.8 449.1 999.2 449.4 998.2C449.7 997.3 451.0 988.8 451.3 986.5C451.5 984.1 452.7 967.4 452.9 965.3C453.2 963.2 454.4 957.1 454.6 957.1C454.8 957.1 455.8 962.5 456.0 965.3C456.2 968.1 457.4 992.2 457.6 995.9C457.9 999.6 459.0 1015.0 459.3 1017.1C459.5 1019.1 460.9 1023.5 461.2 1024.1C461.4 1024.7 462.8 1025.3 463.1 1025.3C463.3 1025.3 464.9 1023.7 465.2 1023.6C465.5 1023.6 466.8 1023.7 467.1 1024.1C467.3 1024.5 468.7 1028.6 468.9 1028.8C469.2 1029.1 470.8 1027.3 471.1 1027.6C471.3 1028.0 472.7 1032.4 472.9 1033.5C473.2 1034.6 474.6 1042.4 474.8 1042.9C475.1 1043.4 476.2 1041.2 476.5 1040.6C476.7 1040.0 478.1 1035.0 478.4 1034.7C478.6 1034.5 479.9 1036.6 480.2 1037.1C480.5 1037.6 482.1 1041.2 482.4 1041.8C482.7 1042.4 484.2 1045.0 484.5 1045.3C484.8 1045.6 486.1 1046.3 486.4 1045.8C486.6 1045.3 488.0 1039.4 488.2 1038.2C488.5 1037.0 489.8 1030.0 490.1 1028.8C490.4 1027.6 491.9 1022.9 492.2 1021.8C492.5 1020.6 493.8 1013.5 494.1 1012.4C494.4 1011.2 495.7 1006.3 496.0 1005.8C496.3 1005.3 497.8 1005.2 498.1 1005.3C498.4 1005.3 499.7 1006.8 500.0 1006.5C500.3 1006.1 501.6 1002.7 501.9 1000.6C502.1 998.5 503.3 980.3 503.5 977.1C503.8 973.9 505.0 957.8 505.2 955.9C505.4 953.9 506.4 950.0 506.6 950.0C506.8 950.0 507.8 953.9 508.0 955.9C508.2 957.8 509.2 973.9 509.4 977.1C509.6 980.3 510.8 998.2 511.1 1000.6C511.3 1003.0 512.6 1009.7 512.9 1011.2C513.2 1012.6 515.0 1019.7 515.3 1020.6C515.6 1021.5 517.3 1023.4 517.6 1023.6C518.0 1023.9 519.7 1023.4 520.0 1024.1C520.3 1024.8 521.4 1032.8 521.6 1033.5C521.9 1034.3 523.3 1035.4 523.5 1034.7C523.8 1034.0 525.0 1024.4 525.2 1024.1C525.4 1023.9 526.4 1029.7 526.6 1031.2C526.8 1032.7 528.0 1044.6 528.2 1045.3C528.5 1046.0 529.6 1042.1 529.9 1040.6C530.1 1039.1 531.3 1025.4 531.5 1024.1C531.7 1022.9 532.7 1022.2 532.9 1022.9C533.2 1023.7 534.4 1033.3 534.6 1034.7C534.8 1036.1 535.8 1042.9 536.0 1042.5C536.2 1042.1 537.4 1030.2 537.6 1028.8C537.9 1027.5 539.1 1023.6 539.3 1023.6C539.5 1023.6 540.5 1027.7 540.7 1028.8C540.9 1029.9 542.1 1038.8 542.4 1039.4C542.6 1040.0 543.7 1037.6 544.0 1037.1C544.3 1036.6 545.6 1032.5 545.9 1032.4C546.2 1032.2 547.9 1034.4 548.2 1034.7C548.6 1035.0 550.3 1036.9 550.6 1037.1C550.9 1037.2 552.6 1036.4 552.9 1036.4C553.3 1036.3 555.0 1035.7 555.3 1035.9C555.6 1036.1 556.9 1039.6 557.2 1039.4C557.5 1039.2 559.0 1034.0 559.3 1033.5C559.6 1033.0 560.9 1032.0 561.2 1032.4C561.4 1032.7 562.6 1037.3 562.8 1038.2C563.1 1039.2 564.2 1045.2 564.5 1045.3C564.7 1045.4 566.1 1040.1 566.4 1039.4C566.6 1038.7 568.0 1035.8 568.2 1035.9C568.5 1036.0 569.8 1040.6 570.1 1040.6C570.4 1040.6 571.9 1036.5 572.2 1035.9C572.5 1035.3 573.8 1032.4 574.1 1032.4C574.4 1032.4 575.7 1035.3 576.0 1035.9C576.3 1036.5 577.8 1039.7 578.1 1040.6C578.4 1041.4 579.7 1047.0 580.0 1047.6C580.3 1048.3 581.4 1050.3 581.6 1050.0C581.9 1049.7 583.3 1044.0 583.5 1042.9C583.8 1041.8 585.1 1035.2 585.4 1034.7C585.7 1034.2 587.2 1035.4 587.5 1035.4C587.8 1035.4 589.5 1034.6 589.9 1034.7C590.2 1034.8 591.9 1036.9 592.2 1037.1C592.6 1037.2 594.3 1036.4 594.6 1036.4C594.9 1036.4 596.2 1036.8 596.5 1037.1C596.8 1037.4 598.5 1041.0 598.8 1040.6C599.1 1040.2 600.2 1032.1 600.5 1031.2C600.7 1030.3 601.9 1027.5 602.1 1027.6C602.4 1027.8 603.5 1032.5 603.8 1033.5C604.0 1034.5 605.2 1041.6 605.4 1041.8C605.7 1041.9 607.0 1036.5 607.3 1035.9C607.6 1035.3 609.1 1033.6 609.4 1033.5C609.7 1033.4 611.0 1034.9 611.3 1034.7C611.6 1034.5 613.1 1031.0 613.4 1031.2C613.7 1031.4 615.4 1036.6 615.7 1037.6C616.0 1038.7 617.5 1045.4 617.8 1045.4C618.0 1045.4 619.3 1038.6 619.6 1037.6C619.8 1036.7 621.1 1032.3 621.4 1032.5C621.7 1032.6 623.2 1039.9 623.5 1040.2C623.8 1040.6 625.2 1037.6 625.5 1037.6C625.8 1037.6 627.3 1040.4 627.6 1040.2C627.9 1040.0 629.1 1035.8 629.4 1035.1C629.7 1034.3 631.2 1030.2 631.5 1030.4C631.8 1030.6 633.0 1037.3 633.3 1037.6C633.6 1038.0 635.1 1035.6 635.4 1035.1C635.6 1034.5 636.9 1030.3 637.2 1030.4C637.4 1030.5 638.7 1035.4 639.0 1036.3C639.3 1037.3 640.8 1044.1 641.1 1044.1C641.4 1044.1 642.8 1037.1 643.1 1036.3C643.4 1035.6 645.1 1033.9 645.5 1033.8C645.8 1033.7 647.2 1035.1 647.5 1035.1C647.8 1035.0 649.3 1032.6 649.6 1033.0C649.9 1033.4 651.1 1039.3 651.4 1040.2C651.7 1041.1 653.2 1045.6 653.5 1045.4C653.8 1045.2 655.0 1038.6 655.3 1037.6C655.5 1036.7 656.8 1032.3 657.1 1032.5C657.4 1032.6 658.9 1039.1 659.2 1040.2C659.5 1041.3 660.9 1047.3 661.2 1048.0C661.6 1048.7 663.2 1050.5 663.6 1050.6C663.9 1050.7 665.6 1050.0 665.9 1049.3C666.2 1048.5 667.7 1041.8 668.0 1040.2C668.3 1038.7 669.8 1028.5 670.0 1027.3C670.3 1026.1 671.4 1023.2 671.6 1023.4C671.8 1023.6 673.1 1028.9 673.4 1029.9C673.7 1030.9 674.9 1037.3 675.2 1037.6C675.5 1038.0 677.0 1035.2 677.3 1035.1C677.6 1034.9 679.5 1034.7 679.9 1035.1C680.2 1035.4 681.6 1039.8 681.9 1040.2C682.3 1040.6 684.0 1041.2 684.3 1040.7C684.6 1040.3 686.0 1034.3 686.3 1033.8C686.6 1033.2 688.1 1032.1 688.4 1032.5C688.7 1032.8 690.4 1038.3 690.7 1038.9C691.1 1039.5 692.5 1040.7 692.8 1040.7C693.1 1040.8 695.0 1039.9 695.4 1039.7C695.8 1039.5 697.7 1038.0 698.0 1037.6C698.3 1037.3 699.8 1034.9 700.1 1035.1C700.4 1035.2 701.9 1039.8 702.1 1040.2C702.4 1040.7 703.7 1042.2 703.9 1041.5C704.2 1040.9 705.5 1032.1 705.8 1031.2C706.0 1030.2 707.3 1027.6 707.6 1027.8C707.8 1028.0 709.1 1033.1 709.4 1033.8C709.7 1034.5 711.2 1037.5 711.4 1037.6C711.7 1037.7 713.2 1035.3 713.5 1035.1C713.9 1034.8 715.7 1034.8 716.1 1034.5C716.5 1034.3 718.4 1031.5 718.7 1031.2C719.0 1030.8 720.2 1029.6 720.5 1029.9C720.8 1030.2 722.3 1034.4 722.6 1035.1C722.9 1035.7 724.3 1038.8 724.6 1038.9C725.0 1039.0 726.6 1036.4 727.0 1036.3C727.3 1036.3 729.2 1037.2 729.6 1037.6C729.9 1038.1 731.8 1042.7 732.2 1042.8C732.5 1042.9 733.9 1039.5 734.2 1038.9C734.5 1038.4 736.0 1035.0 736.3 1035.1C736.6 1035.1 738.1 1039.8 738.4 1040.2C738.6 1040.7 739.9 1042.1 740.2 1041.5C740.4 1041.0 741.7 1033.3 742.0 1032.5C742.2 1031.6 743.5 1029.3 743.8 1029.9C744.1 1030.4 745.4 1038.9 745.6 1040.2C745.9 1041.5 747.2 1048.2 747.4 1048.0C747.7 1047.8 749.0 1038.9 749.2 1037.6C749.5 1036.4 751.0 1030.7 751.3 1030.4C751.6 1030.1 753.3 1033.4 753.6 1033.8C754.0 1034.1 755.9 1034.6 756.2 1035.1C756.6 1035.5 758.0 1040.1 758.3 1040.2C758.6 1040.3 760.3 1036.7 760.6 1036.3C760.9 1036.0 762.4 1034.4 762.7 1035.1C763.0 1035.7 764.2 1044.3 764.5 1045.4C764.8 1046.5 766.1 1050.9 766.3 1050.6C766.6 1050.2 767.9 1041.4 768.1 1040.2C768.4 1039.0 769.6 1034.2 769.9 1033.8C770.3 1033.3 772.2 1033.9 772.5 1033.8C772.9 1033.7 774.8 1032.3 775.1 1032.5C775.5 1032.6 777.1 1035.9 777.4 1036.3C777.8 1036.8 779.2 1038.7 779.5 1038.9C779.8 1039.1 781.7 1038.9 782.1 1038.9C782.5 1038.9 784.3 1039.1 784.7 1038.9C785.1 1038.7 786.9 1036.8 787.3 1036.3C787.6 1035.9 789.1 1032.8 789.3 1032.5C789.6 1032.1 790.9 1031.1 791.2 1031.2C791.4 1031.3 792.9 1033.9 793.2 1033.8C793.5 1033.7 795.0 1029.8 795.3 1029.9C795.6 1030.0 796.6 1034.1 796.9 1035.1C797.1 1036.0 798.7 1042.1 798.9 1042.8C799.2 1043.6 800.2 1045.9 800.5 1045.4C800.7 1044.9 802.0 1037.2 802.3 1036.3C802.5 1035.5 803.8 1033.9 804.1 1033.8C804.4 1033.7 805.9 1035.3 806.2 1035.1C806.4 1034.8 807.8 1030.4 808.0 1029.9C808.2 1029.4 809.1 1027.4 809.3 1027.8C809.5 1028.2 810.8 1034.3 811.1 1035.1C811.3 1035.8 812.4 1037.8 812.6 1037.6C812.9 1037.5 814.2 1032.7 814.5 1032.5C814.7 1032.2 816.0 1033.0 816.3 1033.8C816.5 1034.5 817.7 1042.2 817.8 1042.8"/>
<path stroke="#009745" stroke-width="3.4" d="M48.2 1220.6C48.4 1219.7 49.7 1210.1 49.9 1208.8C50.1 1207.5 51.1 1202.2 51.3 1202.2C51.5 1202.2 52.7 1207.5 52.9 1208.8C53.2 1210.1 54.3 1219.4 54.6 1220.6C54.8 1221.7 56.2 1225.3 56.5 1224.8C56.7 1224.3 58.1 1215.1 58.4 1213.5C58.6 1212.0 59.8 1203.7 60.0 1202.9C60.2 1202.1 61.4 1201.5 61.6 1202.2C61.9 1203.0 62.8 1211.7 63.1 1213.5C63.3 1215.3 64.5 1226.2 64.7 1227.6C64.9 1229.1 66.1 1234.6 66.4 1234.2C66.6 1233.9 68.0 1224.1 68.2 1222.9C68.5 1221.8 69.8 1218.6 70.1 1218.2C70.4 1217.9 71.9 1218.2 72.2 1217.8C72.5 1217.3 73.9 1212.7 74.1 1212.4C74.4 1212.0 75.5 1212.5 75.8 1213.1C76.0 1213.6 77.4 1219.7 77.6 1220.6C77.9 1221.5 79.3 1225.5 79.5 1225.3C79.8 1225.1 81.2 1219.4 81.4 1218.2C81.7 1217.1 82.8 1210.0 83.1 1209.3C83.3 1208.6 84.5 1208.3 84.7 1208.8C85.0 1209.4 86.3 1216.2 86.6 1217.1C86.8 1217.9 88.0 1220.9 88.2 1220.6C88.5 1220.3 89.6 1213.4 89.9 1212.4C90.1 1211.3 91.5 1205.7 91.8 1206.0C92.0 1206.3 93.4 1214.5 93.6 1215.9C93.9 1217.2 95.3 1224.7 95.5 1224.8C95.8 1225.0 97.2 1219.0 97.4 1218.2C97.6 1217.5 98.6 1214.5 98.8 1214.7C99.0 1214.9 100.2 1219.4 100.5 1220.6C100.7 1221.8 101.9 1229.5 102.1 1231.2C102.4 1232.9 103.7 1243.0 104.0 1244.1C104.3 1245.2 105.6 1247.8 105.9 1246.9C106.1 1246.1 107.3 1234.3 107.5 1232.4C107.7 1230.4 108.7 1220.4 108.9 1219.4C109.2 1218.4 110.3 1217.9 110.6 1218.2C110.8 1218.6 112.2 1224.8 112.5 1224.1C112.7 1223.4 113.7 1210.8 113.9 1208.8C114.1 1206.8 115.1 1196.8 115.3 1195.9C115.5 1195.0 116.7 1195.2 116.9 1195.9C117.2 1196.6 118.1 1204.5 118.4 1205.3C118.6 1206.1 119.7 1206.4 120.0 1206.5C120.3 1206.5 121.6 1205.2 121.9 1206.0C122.1 1206.8 123.1 1216.7 123.3 1218.2C123.5 1219.8 124.7 1227.6 124.9 1227.6C125.2 1227.6 126.4 1219.6 126.6 1218.2C126.8 1216.9 128.0 1209.3 128.2 1208.8C128.5 1208.3 129.7 1210.5 129.9 1211.2C130.1 1211.8 131.1 1218.4 131.3 1218.2C131.5 1218.1 132.7 1210.0 132.9 1208.8C133.2 1207.7 134.4 1202.7 134.6 1202.2C134.8 1201.8 135.8 1202.6 136.0 1202.9C136.2 1203.3 137.4 1207.2 137.6 1207.6C137.9 1208.1 139.7 1208.7 140.0 1208.8C140.3 1208.9 142.1 1208.6 142.4 1208.8C142.6 1209.1 143.7 1212.4 144.0 1212.4C144.3 1212.4 145.6 1208.7 145.9 1208.8C146.2 1208.9 147.5 1212.5 147.8 1213.5C148.0 1214.5 149.2 1222.1 149.4 1222.9C149.6 1223.8 150.8 1225.2 151.1 1225.3C151.3 1225.4 152.7 1225.3 152.9 1224.8C153.2 1224.3 154.4 1219.1 154.6 1218.2C154.8 1217.3 155.8 1212.4 156.0 1212.4C156.2 1212.4 157.4 1217.3 157.6 1218.2C157.9 1219.2 159.1 1225.1 159.3 1225.3C159.5 1225.5 160.7 1221.5 160.9 1220.6C161.2 1219.7 162.1 1212.9 162.4 1212.4C162.6 1211.8 164.0 1213.1 164.2 1213.1C164.5 1213.0 165.6 1212.2 165.9 1211.6C166.1 1211.1 167.3 1206.0 167.5 1205.3C167.7 1204.6 168.7 1201.8 168.9 1202.2C169.2 1202.7 170.4 1209.5 170.6 1211.2C170.8 1212.8 171.6 1223.9 171.8 1225.3C171.9 1226.7 172.7 1231.7 172.9 1231.2C173.1 1230.7 174.4 1220.4 174.6 1218.2C174.8 1216.1 175.8 1201.9 176.0 1200.6C176.2 1199.2 177.4 1198.7 177.6 1199.4C177.9 1200.2 179.1 1209.8 179.3 1211.2C179.5 1212.5 180.5 1218.0 180.7 1218.2C180.9 1218.5 182.1 1214.5 182.4 1214.7C182.6 1214.9 183.7 1220.1 184.0 1220.6C184.3 1221.0 185.6 1221.6 185.9 1221.1C186.1 1220.6 187.3 1214.4 187.5 1213.5C187.7 1212.6 188.7 1208.4 188.9 1208.4C189.2 1208.3 190.4 1211.9 190.6 1212.4C190.8 1212.8 192.0 1215.0 192.2 1214.7C192.5 1214.5 193.4 1208.9 193.6 1208.8C193.9 1208.7 195.0 1213.5 195.3 1213.5C195.5 1213.5 196.9 1209.2 197.2 1208.8C197.4 1208.4 198.6 1208.3 198.8 1207.6C199.0 1207.0 199.8 1200.5 200.0 1199.9C200.2 1199.3 201.2 1198.6 201.4 1199.4C201.6 1200.2 202.6 1209.8 202.8 1211.2C203.0 1212.5 204.0 1218.2 204.2 1218.2C204.5 1218.3 205.6 1213.0 205.9 1212.4C206.1 1211.7 207.3 1208.8 207.5 1208.8C207.8 1208.8 209.1 1212.3 209.4 1212.4C209.7 1212.4 211.0 1209.5 211.3 1209.3C211.6 1209.0 212.9 1208.2 213.2 1208.8C213.4 1209.5 214.6 1217.1 214.8 1218.2C215.1 1219.4 216.2 1225.5 216.5 1225.3C216.7 1225.1 217.9 1217.4 218.1 1215.9C218.4 1214.4 219.5 1205.1 219.8 1204.1C220.0 1203.1 221.0 1201.9 221.2 1202.2C221.4 1202.6 222.6 1207.8 222.8 1208.8C223.1 1209.9 224.3 1216.4 224.5 1217.1C224.7 1217.7 225.7 1218.8 225.9 1218.2C226.1 1217.6 227.3 1209.7 227.5 1208.8C227.7 1207.9 228.7 1205.0 228.9 1205.3C229.2 1205.6 230.3 1212.4 230.6 1213.5C230.8 1214.6 232.2 1220.4 232.5 1220.6C232.7 1220.8 233.8 1216.3 234.1 1215.9C234.4 1215.5 236.3 1214.9 236.6 1214.8C236.9 1214.8 238.2 1215.3 238.5 1215.3C238.7 1215.3 239.9 1215.3 240.1 1214.8C240.4 1214.4 241.5 1208.7 241.8 1208.7C242.0 1208.7 243.2 1214.7 243.4 1215.3C243.6 1215.9 244.8 1218.0 245.1 1217.6C245.3 1217.3 246.3 1211.5 246.5 1210.6C246.7 1209.7 247.9 1205.4 248.1 1205.4C248.4 1205.4 249.5 1209.9 249.8 1210.6C250.0 1211.3 251.2 1215.0 251.4 1214.8C251.6 1214.7 252.8 1209.1 253.1 1208.7C253.3 1208.3 254.3 1208.8 254.5 1209.4C254.7 1210.1 255.7 1216.5 255.9 1217.6C256.1 1218.8 257.3 1225.2 257.5 1225.9C257.8 1226.6 258.9 1227.9 259.2 1227.5C259.4 1227.1 260.6 1221.2 260.8 1220.0C261.1 1218.8 262.2 1211.8 262.5 1210.6C262.7 1209.4 263.9 1203.6 264.1 1203.1C264.4 1202.5 265.5 1202.0 265.8 1202.4C266.0 1202.7 267.0 1207.4 267.2 1208.2C267.4 1209.1 268.6 1214.3 268.8 1214.1C269.1 1213.9 270.3 1206.7 270.5 1205.9C270.7 1205.0 271.7 1202.3 271.9 1202.4C272.1 1202.4 273.3 1206.4 273.5 1207.1C273.8 1207.7 274.9 1211.3 275.2 1211.8C275.4 1212.2 276.8 1213.4 277.1 1213.4C277.3 1213.4 278.6 1211.9 278.9 1211.8C279.2 1211.6 281.0 1211.4 281.3 1211.8C281.6 1212.1 282.7 1215.7 282.9 1216.5C283.2 1217.3 284.4 1222.6 284.6 1222.8C284.8 1223.1 285.8 1221.0 286.0 1220.0C286.2 1219.0 287.4 1209.5 287.6 1208.2C287.9 1207.0 289.1 1202.5 289.3 1202.4C289.5 1202.2 290.5 1205.1 290.7 1205.9C290.9 1206.6 291.9 1212.1 292.1 1212.9C292.3 1213.7 293.3 1217.3 293.5 1217.2C293.7 1217.1 294.9 1211.9 295.2 1211.8C295.4 1211.6 296.6 1214.8 296.8 1214.8C297.1 1214.9 298.4 1212.4 298.7 1212.5C299.0 1212.5 300.3 1215.2 300.6 1215.3C300.9 1215.4 302.2 1214.0 302.5 1214.1C302.7 1214.2 303.9 1217.1 304.1 1216.5C304.4 1215.9 305.5 1207.1 305.8 1205.9C306.0 1204.6 307.0 1199.3 307.2 1198.8C307.4 1198.3 308.6 1198.2 308.8 1198.8C309.0 1199.4 310.0 1205.8 310.2 1207.1C310.5 1208.3 311.6 1215.7 311.9 1216.5C312.1 1217.2 313.3 1217.9 313.5 1217.6C313.8 1217.4 314.9 1213.4 315.2 1212.9C315.4 1212.5 316.8 1211.5 317.1 1211.8C317.3 1212.0 318.5 1215.7 318.7 1216.5C318.9 1217.3 319.9 1222.3 320.1 1222.8C320.3 1223.3 321.5 1224.2 321.8 1223.5C322.0 1222.8 323.0 1214.2 323.2 1212.9C323.4 1211.6 324.4 1205.7 324.6 1205.4C324.8 1205.1 325.8 1207.4 326.0 1208.2C326.2 1209.1 327.2 1216.5 327.4 1217.6C327.6 1218.8 328.6 1224.4 328.8 1224.2C329.0 1224.1 330.0 1216.6 330.2 1215.3C330.5 1214.0 331.6 1206.6 331.9 1205.9C332.1 1205.2 333.3 1204.9 333.5 1205.4C333.7 1205.9 334.7 1212.1 334.9 1212.9C335.2 1213.8 336.4 1217.6 336.6 1217.6C336.8 1217.7 338.0 1214.8 338.2 1214.1C338.5 1213.5 339.6 1209.0 339.9 1208.7C340.1 1208.4 341.3 1208.9 341.5 1209.4C341.7 1210.0 342.7 1215.9 342.9 1216.5C343.2 1217.1 344.3 1217.6 344.6 1217.6C344.8 1217.7 346.2 1217.6 346.5 1217.6C346.8 1217.6 348.5 1217.7 348.8 1217.6C349.1 1217.6 350.5 1217.5 350.7 1217.2C351.0 1216.8 352.1 1213.6 352.4 1212.9C352.6 1212.3 354.0 1209.0 354.2 1208.2C354.5 1207.5 355.6 1203.2 355.9 1202.4C356.1 1201.5 357.3 1197.0 357.5 1196.5C357.7 1196.0 358.7 1195.0 358.9 1195.3C359.1 1195.6 360.2 1200.2 360.4 1201.2C360.6 1202.2 361.5 1208.4 361.8 1209.4C362.0 1210.4 363.2 1215.0 363.4 1215.3C363.7 1215.6 365.0 1213.6 365.3 1213.4C365.6 1213.2 366.9 1212.3 367.2 1212.5C367.4 1212.6 368.6 1215.3 368.8 1215.3C369.1 1215.2 370.4 1211.9 370.7 1211.8C371.0 1211.6 372.3 1212.6 372.6 1212.9C372.8 1213.3 374.0 1216.1 374.2 1216.5C374.5 1216.8 375.6 1218.1 375.9 1217.6C376.1 1217.2 377.3 1211.5 377.5 1210.6C377.7 1209.7 378.7 1205.4 378.9 1204.7C379.2 1204.0 380.4 1201.7 380.6 1201.2C380.8 1200.7 382.0 1198.2 382.2 1197.6C382.5 1197.1 383.6 1194.0 383.9 1193.6C384.1 1193.3 385.5 1192.7 385.8 1192.9C386.0 1193.1 387.0 1195.8 387.2 1196.5C387.4 1197.1 388.6 1201.5 388.8 1202.4C389.1 1203.2 390.2 1207.3 390.5 1207.8C390.7 1208.2 392.1 1208.3 392.4 1208.2C392.6 1208.2 394.0 1207.2 394.2 1207.1C394.5 1206.9 395.6 1205.8 395.9 1205.9C396.1 1206.0 397.3 1207.6 397.5 1208.2C397.7 1208.8 398.7 1213.2 398.9 1214.1C399.2 1215.0 400.4 1221.1 400.6 1221.2C400.8 1221.3 402.0 1216.4 402.2 1215.3C402.5 1214.2 403.4 1206.6 403.6 1205.9C403.8 1205.2 404.9 1204.9 405.1 1205.4C405.3 1205.9 406.3 1212.1 406.5 1212.9C406.7 1213.8 407.9 1218.0 408.1 1217.6C408.4 1217.3 409.5 1209.1 409.8 1208.2C410.0 1207.4 411.0 1205.1 411.2 1205.4C411.4 1205.7 412.6 1211.8 412.8 1212.9C413.1 1214.1 414.2 1220.9 414.5 1221.2C414.7 1221.4 416.1 1216.9 416.4 1216.5C416.6 1216.0 418.0 1214.8 418.2 1214.8C418.5 1214.8 419.9 1215.9 420.1 1216.5C420.4 1217.0 421.5 1221.8 421.8 1222.4C422.0 1222.9 423.1 1224.5 423.4 1224.2C423.7 1224.0 425.4 1219.5 425.6 1218.8C425.9 1218.2 427.3 1215.5 427.5 1215.3C427.8 1215.1 429.1 1215.7 429.4 1215.8C429.7 1215.8 431.0 1216.8 431.3 1216.5C431.5 1216.2 432.7 1212.0 432.9 1211.8C433.2 1211.5 434.6 1212.8 434.8 1212.9C435.1 1213.1 436.2 1214.6 436.5 1214.1C436.7 1213.6 438.1 1206.8 438.4 1205.9C438.6 1205.0 439.8 1201.5 440.0 1201.6C440.2 1201.8 441.4 1206.9 441.6 1208.2C441.9 1209.5 443.3 1218.9 443.5 1220.0C443.8 1221.1 444.9 1223.5 445.2 1223.5C445.4 1223.5 446.8 1220.3 447.1 1220.0C447.3 1219.7 448.5 1218.7 448.7 1218.8C449.0 1218.9 450.3 1221.4 450.6 1221.2C450.8 1220.9 452.0 1216.6 452.2 1215.3C452.5 1214.0 453.9 1204.7 454.1 1203.5C454.4 1202.4 455.5 1198.9 455.8 1198.8C456.0 1198.7 457.4 1201.7 457.6 1202.4C457.9 1203.0 459.0 1208.5 459.3 1208.2C459.5 1208.0 460.9 1199.7 461.2 1198.8C461.4 1197.9 462.6 1195.2 462.8 1195.3C463.0 1195.4 464.0 1199.3 464.2 1200.0C464.5 1200.7 465.6 1205.3 465.9 1204.7C466.1 1204.1 467.3 1194.2 467.5 1191.8C467.7 1189.3 468.7 1173.0 468.9 1170.6C469.1 1168.2 470.1 1158.7 470.4 1157.6C470.6 1156.6 471.8 1155.9 472.0 1156.5C472.2 1157.1 473.2 1163.4 473.4 1165.9C473.6 1168.4 474.6 1188.2 474.8 1191.8C475.0 1195.3 476.0 1213.2 476.2 1215.3C476.4 1217.4 477.4 1221.3 477.6 1221.2C477.8 1221.0 478.9 1213.9 479.1 1212.9C479.3 1212.0 480.3 1208.2 480.5 1208.2C480.7 1208.2 481.7 1212.3 481.9 1212.9C482.1 1213.6 483.3 1217.5 483.5 1217.6C483.8 1217.8 485.0 1214.9 485.2 1214.8C485.4 1214.7 486.4 1215.8 486.6 1216.5C486.8 1217.1 487.8 1222.8 488.0 1223.5C488.2 1224.3 489.2 1227.3 489.4 1227.1C489.6 1226.8 490.6 1221.3 490.8 1220.0C491.0 1218.7 492.2 1209.3 492.5 1208.2C492.7 1207.1 493.9 1204.9 494.1 1204.7C494.4 1204.5 495.5 1205.5 495.8 1205.4C496.0 1205.4 497.0 1203.6 497.2 1204.0C497.4 1204.4 498.6 1209.5 498.8 1210.6C499.1 1211.6 500.2 1217.9 500.5 1218.8C500.7 1219.7 502.1 1223.4 502.4 1223.5C502.6 1223.7 503.8 1220.8 504.0 1221.2C504.2 1221.6 505.2 1227.8 505.4 1229.4C505.6 1231.0 506.8 1240.8 507.1 1243.5C507.3 1246.2 508.5 1263.0 508.7 1267.1C508.9 1271.1 509.9 1295.6 510.1 1300.0C510.3 1304.4 511.3 1325.5 511.5 1328.2C511.7 1330.9 512.5 1337.6 512.7 1337.6C512.9 1337.6 513.7 1332.3 513.9 1328.2C514.1 1324.2 515.1 1287.6 515.3 1281.2C515.5 1274.8 516.3 1243.2 516.5 1238.8C516.7 1234.5 517.7 1221.7 517.9 1220.0C518.1 1218.3 519.3 1215.5 519.5 1215.3C519.8 1215.0 520.9 1216.7 521.2 1216.5C521.4 1216.2 522.6 1211.9 522.8 1211.8C523.1 1211.6 524.2 1214.2 524.5 1214.1C524.7 1214.0 525.9 1211.5 526.1 1210.6C526.4 1209.7 527.5 1202.4 527.8 1201.2C528.0 1200.0 529.2 1194.3 529.4 1193.6C529.6 1193.0 530.8 1192.0 531.1 1192.2C531.3 1192.4 532.5 1195.5 532.7 1196.5C532.9 1197.4 534.1 1204.6 534.4 1205.9C534.6 1207.1 535.8 1213.8 536.0 1214.1C536.2 1214.5 537.4 1211.4 537.6 1210.6C537.9 1209.8 539.1 1203.6 539.3 1203.1C539.5 1202.5 540.7 1201.9 540.9 1202.4C541.2 1202.8 542.4 1208.7 542.6 1209.4C542.8 1210.1 544.0 1211.8 544.2 1211.8C544.5 1211.7 545.6 1208.9 545.9 1208.7C546.1 1208.5 547.3 1209.0 547.5 1209.4C547.8 1209.8 548.9 1213.5 549.2 1214.1C549.4 1214.7 550.6 1217.1 550.8 1217.6C551.1 1218.2 552.2 1221.9 552.5 1222.4C552.7 1222.8 553.9 1223.9 554.1 1223.5C554.4 1223.1 555.5 1217.3 555.8 1216.5C556.0 1215.6 557.2 1211.8 557.4 1211.8C557.6 1211.7 558.8 1214.6 559.1 1215.3C559.3 1216.0 560.5 1220.8 560.7 1221.2C560.9 1221.5 562.1 1220.6 562.4 1220.0C562.6 1219.4 563.7 1213.7 564.0 1212.9C564.3 1212.2 565.6 1209.6 565.9 1209.4C566.1 1209.2 567.3 1209.7 567.5 1210.6C567.8 1211.4 568.9 1220.0 569.2 1221.2C569.4 1222.4 570.6 1227.9 570.8 1227.5C571.1 1227.1 572.2 1217.1 572.5 1215.3C572.7 1213.5 573.9 1203.5 574.1 1202.4C574.4 1201.2 575.5 1198.7 575.8 1198.8C576.0 1199.0 577.2 1203.9 577.4 1204.7C577.6 1205.5 578.8 1209.9 579.1 1210.6C579.3 1211.3 580.5 1213.8 580.7 1214.1C580.9 1214.5 582.1 1215.7 582.4 1215.3C582.6 1214.9 583.8 1209.2 584.0 1208.2C584.2 1207.3 585.4 1202.4 585.6 1202.4C585.9 1202.4 586.9 1206.8 587.1 1208.2C587.3 1209.7 588.3 1221.0 588.5 1222.4C588.7 1223.7 589.7 1227.7 589.9 1227.5C590.1 1227.4 591.1 1221.2 591.3 1220.0C591.5 1218.8 592.7 1211.4 592.9 1210.6C593.2 1209.8 594.3 1208.7 594.6 1208.7C594.8 1208.7 596.2 1210.6 596.5 1210.6C596.7 1210.6 598.1 1208.3 598.4 1208.2C598.6 1208.2 600.0 1209.5 600.2 1209.4C600.5 1209.3 601.8 1207.7 602.1 1207.1C602.4 1206.4 603.7 1200.6 604.0 1200.0C604.3 1199.4 605.6 1198.8 605.9 1198.8C606.1 1198.8 607.3 1199.2 607.5 1200.0C607.8 1200.8 608.9 1209.1 609.2 1210.6C609.4 1212.1 610.6 1220.8 610.8 1221.2C611.1 1221.5 612.2 1216.0 612.5 1215.3C612.7 1214.6 613.9 1212.0 614.1 1211.8C614.3 1211.6 615.4 1211.7 615.7 1212.5C616.0 1213.3 617.5 1222.5 617.8 1222.8C618.0 1223.1 619.3 1217.1 619.6 1216.3C619.8 1215.6 621.1 1212.4 621.4 1212.5C621.7 1212.6 623.2 1217.4 623.5 1217.6C623.8 1217.9 625.3 1216.9 625.5 1216.3C625.8 1215.8 627.1 1210.9 627.3 1209.9C627.6 1208.9 628.9 1203.2 629.2 1202.1C629.4 1201.0 630.7 1195.0 631.0 1194.3C631.2 1193.7 632.5 1192.4 632.8 1193.1C633.0 1193.7 634.3 1201.8 634.6 1203.4C634.8 1205.0 636.2 1214.6 636.4 1215.1C636.6 1215.5 637.7 1210.8 638.0 1209.9C638.2 1209.0 639.5 1203.1 639.8 1202.6C640.0 1202.2 641.3 1202.6 641.6 1203.4C641.8 1204.2 642.9 1212.6 643.1 1213.8C643.4 1215.0 644.7 1220.2 644.9 1220.2C645.2 1220.2 646.5 1214.7 646.7 1213.8C647.0 1212.8 648.1 1207.8 648.3 1207.3C648.5 1206.8 649.9 1206.2 650.1 1206.8C650.4 1207.3 651.6 1214.7 651.9 1215.1C652.2 1215.4 653.7 1211.8 654.0 1211.2C654.3 1210.6 655.5 1207.0 655.8 1206.8C656.1 1206.5 657.3 1207.4 657.6 1207.8C657.9 1208.2 659.4 1211.9 659.7 1212.5C660.0 1213.0 661.5 1215.2 661.8 1215.6C662.1 1215.9 663.5 1217.2 663.8 1217.6C664.1 1218.1 665.8 1221.8 666.2 1222.3C666.5 1222.8 668.0 1224.4 668.2 1224.1C668.5 1223.8 669.8 1218.5 670.0 1217.6C670.3 1216.8 671.4 1211.9 671.6 1211.9C671.8 1211.9 673.1 1216.8 673.4 1217.6C673.7 1218.5 675.0 1224.5 675.2 1224.1C675.5 1223.7 676.8 1214.0 677.0 1212.5C677.3 1210.9 678.3 1203.3 678.6 1202.6C678.8 1202.0 680.2 1202.5 680.4 1203.4C680.6 1204.3 681.7 1213.9 681.9 1215.1C682.2 1216.3 683.5 1220.2 683.8 1220.2C684.0 1220.2 685.3 1215.3 685.6 1215.1C685.8 1214.8 687.4 1217.3 687.6 1217.1C687.9 1216.9 689.2 1213.4 689.5 1212.5C689.7 1211.5 690.8 1204.1 691.0 1203.4C691.2 1202.8 692.6 1202.7 692.8 1203.4C693.1 1204.1 694.4 1212.8 694.6 1213.8C694.9 1214.7 696.2 1217.7 696.4 1217.1C696.7 1216.6 697.8 1206.7 698.0 1206.0C698.2 1205.3 699.5 1206.2 699.8 1206.8C700.1 1207.3 701.3 1213.0 701.6 1213.8C701.9 1214.5 703.4 1217.4 703.7 1217.1C704.0 1216.8 705.5 1209.7 705.8 1209.9C706.0 1210.0 707.3 1217.5 707.6 1218.9C707.8 1220.3 708.9 1228.5 709.1 1229.3C709.4 1230.1 710.7 1231.6 710.9 1230.6C711.2 1229.6 712.3 1216.6 712.5 1215.1C712.7 1213.5 713.8 1208.0 714.0 1208.6C714.3 1209.1 715.4 1221.1 715.6 1222.8C715.8 1224.6 716.9 1233.2 717.1 1233.2C717.4 1233.2 718.5 1224.8 718.7 1222.8C718.9 1220.8 720.0 1206.1 720.2 1204.7C720.5 1203.3 721.6 1202.3 721.8 1202.6C722.0 1203.0 723.1 1209.1 723.4 1209.9C723.6 1210.7 724.9 1213.6 725.2 1213.8C725.4 1213.9 726.7 1212.1 727.0 1211.9C727.3 1211.8 728.8 1211.4 729.0 1211.2C729.3 1210.9 730.6 1208.4 730.9 1208.6C731.1 1208.8 732.4 1212.9 732.7 1213.8C732.9 1214.6 734.0 1219.8 734.2 1220.2C734.5 1220.7 735.8 1220.3 736.0 1219.7C736.3 1219.2 737.6 1213.1 737.8 1212.5C738.1 1211.9 739.6 1211.3 739.9 1211.2C740.2 1211.0 741.7 1210.4 742.0 1210.4C742.3 1210.4 743.8 1211.2 744.1 1211.2C744.4 1211.1 745.9 1210.2 746.1 1209.9C746.4 1209.5 747.7 1206.2 747.9 1206.0C748.2 1205.8 749.5 1206.1 749.8 1206.8C750.0 1207.4 751.3 1213.9 751.6 1215.1C751.8 1216.2 753.4 1222.0 753.6 1222.8C753.9 1223.6 755.2 1226.4 755.4 1226.7C755.7 1227.0 757.0 1227.9 757.3 1227.5C757.5 1227.0 758.8 1221.5 759.1 1220.2C759.3 1219.0 760.6 1210.9 760.9 1209.9C761.1 1208.8 762.4 1205.6 762.7 1205.2C763.0 1204.8 764.2 1204.6 764.5 1204.7C764.8 1204.8 766.1 1205.3 766.3 1206.0C766.6 1206.7 767.6 1213.8 767.9 1215.1C768.1 1216.3 769.4 1223.3 769.7 1224.1C769.9 1224.9 771.3 1227.2 771.5 1226.7C771.7 1226.2 772.8 1218.7 773.0 1217.6C773.3 1216.5 774.6 1211.8 774.9 1211.2C775.1 1210.5 776.4 1208.4 776.7 1208.6C776.9 1208.8 778.2 1213.1 778.5 1213.8C778.7 1214.4 780.0 1217.4 780.3 1217.6C780.5 1217.9 781.8 1217.5 782.1 1217.6C782.4 1217.8 783.6 1220.0 783.9 1220.2C784.2 1220.5 785.7 1221.6 786.0 1221.5C786.3 1221.4 787.5 1218.9 787.8 1218.9C788.1 1218.9 789.6 1221.4 789.9 1221.5C790.1 1221.6 791.4 1220.9 791.7 1220.2C791.9 1219.6 793.0 1213.5 793.2 1212.5C793.5 1211.4 794.8 1205.4 795.0 1205.2C795.3 1205.0 796.4 1208.5 796.6 1209.4C796.8 1210.2 797.9 1217.8 798.1 1217.6C798.4 1217.5 799.5 1208.6 799.7 1207.3C799.9 1206.0 800.8 1200.0 801.0 1199.5C801.2 1199.1 802.3 1199.7 802.5 1200.8C802.8 1201.9 803.9 1213.7 804.1 1215.1C804.3 1216.4 805.2 1220.3 805.4 1220.2C805.6 1220.1 807.0 1214.6 807.2 1213.8C807.4 1212.9 808.5 1209.0 808.8 1208.6C809.0 1208.2 810.3 1208.8 810.6 1208.6C810.8 1208.4 812.1 1206.1 812.4 1206.0C812.6 1205.9 813.7 1206.1 813.9 1206.8C814.2 1207.4 815.3 1213.9 815.5 1215.1C815.7 1216.2 816.8 1222.3 817.0 1222.8C817.2 1223.4 818.2 1222.8 818.3 1222.8"/>
</g>
<rect x="44.5" y="6.45" width="776.2" height="1351.05" fill="none" stroke="#2b2a29" stroke-width="4.7"/>
<g stroke="#000" stroke-width="4">
<line x1="44.3" y1="1359" x2="44.3" y2="1388.6"/>
<line x1="171.8" y1="1359" x2="171.8" y2="1388.6"/>
<line x1="298.0" y1="1359" x2="298.0" y2="1388.6"/>
<line x1="428.2" y1="1359" x2="428.2" y2="1388.6"/>
<line x1="560.4" y1="1359" x2="560.4" y2="1388.6"/>
<line x1="689.9" y1="1359" x2="689.9" y2="1388.6"/>
<line x1="821.7" y1="1359" x2="821.7" y2="1388.6"/>
</g>
<g font-size="47.34" fill="#2b2a29" text-anchor="middle">
<g transform="translate(39.8 1436.5) scale(0.9611 1)"><text>200</text><g fill="#fff"></g></g>
<g transform="translate(165.0 1436.5) scale(0.9611 1)"><text>180</text><g fill="#fff"><rect x="-37.30" y="-5.43" width="9.57" height="6.93"/><rect x="-23.27" y="-5.43" width="9.78" height="6.93"/></g></g>
<g transform="translate(296.3 1436.5) scale(0.9611 1)"><text>160</text><g fill="#fff"><rect x="-37.30" y="-5.43" width="9.57" height="6.93"/><rect x="-23.27" y="-5.43" width="9.78" height="6.93"/></g></g>
<g transform="translate(423.1 1436.5) scale(0.9611 1)"><text>140</text><g fill="#fff"><rect x="-37.30" y="-5.43" width="9.57" height="6.93"/><rect x="-23.27" y="-5.43" width="9.78" height="6.93"/></g></g>
<g transform="translate(559.9 1436.5) scale(0.9611 1)"><text>120</text><g fill="#fff"><rect x="-37.30" y="-5.43" width="9.57" height="6.93"/><rect x="-23.27" y="-5.43" width="9.78" height="6.93"/></g></g>
<g transform="translate(690.0 1436.5) scale(0.9611 1)"><text>100</text><g fill="#fff"><rect x="-37.30" y="-5.43" width="9.57" height="6.93"/><rect x="-23.27" y="-5.43" width="9.78" height="6.93"/></g></g>
<g transform="translate(822.0 1436.5) scale(0.9611 1)"><text>80</text><g fill="#fff"></g></g>
</g>
<g transform="translate(184.6 1478.5) scale(0.9611 1)" font-size="24.35" fill="#000"><text>13</text><g fill="#fff"><rect x="1.13" y="-2.79" width="4.92" height="3.57"/><rect x="8.35" y="-2.79" width="5.03" height="3.57"/></g></g>
<text transform="translate(210.3 1501.5) scale(0.9694 1)" font-size="47.86" fill="#000">C chemical shift (ppm)</text>
<g font-size="62" font-weight="bold" fill="#2b2a29">
<text x="55.7" y="447.3">a</text>
<text x="53.9" y="618.6">b</text>
<text x="55.5" y="815.0">c</text>
<text x="55.5" y="979.8">d</text>
<text x="55.5" y="1161.4">e</text>
</g>
</svg></body></html>
